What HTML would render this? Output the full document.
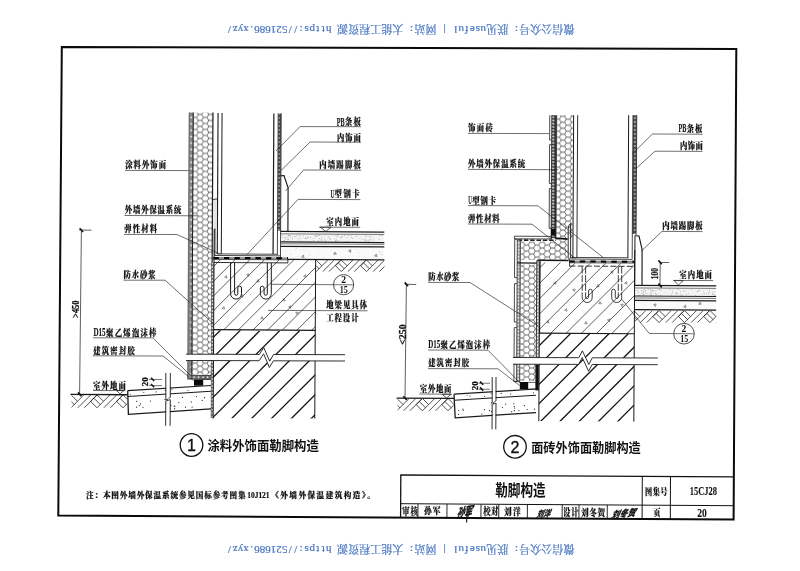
<!DOCTYPE html>
<html lang="zh-CN">
<head>
<meta charset="utf-8">
<title>勒脚构造 15CJ28</title>
<style>
html,body{margin:0;padding:0;background:#fff;}
body{width:800px;height:571px;overflow:hidden;font-family:'Liberation Serif','Noto Serif CJK SC',serif;}
svg{display:block;will-change:transform;}
</style>
</head>
<body>
<svg width="800" height="571" viewBox="0 0 800 571">
<defs>
<pattern id="hex" width="10.380" height="5.993" patternUnits="userSpaceOnUse" x="196.58" y="120.46"><path d="M0,2.996 L1.730,0 L5.190,0 L6.920,2.996 L5.190,5.993 L1.730,5.993 Z M6.920,2.996 L10.380,2.996" fill="none" stroke="#222" stroke-width="0.66"/></pattern>
<pattern id="hex2" width="10.380" height="5.993" patternUnits="userSpaceOnUse" x="559.41" y="116.25"><path d="M0,2.996 L1.730,0 L5.190,0 L6.920,2.996 L5.190,5.993 L1.730,5.993 Z M6.920,2.996 L10.380,2.996" fill="none" stroke="#222" stroke-width="0.66"/></pattern>
<pattern id="dotband" width="6" height="6.4" patternUnits="userSpaceOnUse" x="188.7" y="120.65"><rect width="6" height="6.4" fill="#858585"/><circle cx="2.5" cy="3.2" r="1.0" fill="#fff"/></pattern>
<pattern id="dotband2" width="4" height="4.0" patternUnits="userSpaceOnUse" x="277.4"><rect width="4" height="4.0" fill="#4a4a4a"/><circle cx="1.5" cy="2.0" r="0.8" fill="#fff"/></pattern>
<pattern id="triband" width="6" height="3.2" patternUnits="userSpaceOnUse" x="551.3"><rect width="6" height="3.2" fill="#333"/><path d="M0.5,2.7 L1.9,0.5 L3.3,2.7 Z" fill="#fff"/></pattern>
<pattern id="dotband4" width="2.6" height="3.4" patternUnits="userSpaceOnUse" x="211.0"><rect width="2.6" height="3.4" fill="#666"/><circle cx="1.3" cy="1.7" r="0.8" fill="#fff"/></pattern>
<pattern id="dotband5" width="4.5" height="3.2" patternUnits="userSpaceOnUse" x="187.4" y="375.6"><rect width="4.5" height="3.2" fill="#666"/><circle cx="2.2" cy="1.6" r="0.9" fill="#fff"/></pattern>
<pattern id="dotband3" width="3.2" height="3.4" patternUnits="userSpaceOnUse" x="516.8"><rect width="3.2" height="3.4" fill="#9a9a9a"/><circle cx="1.6" cy="1.7" r="0.9" fill="#fff"/></pattern>
</defs>
<rect x="0" y="0" width="800" height="571" fill="#ffffff"/>
<g style="filter:grayscale(1) blur(0.3px)">
<path d="M61.80,47.00 L736.30,48.90 L733.60,519.60 L58.30,515.60 Z" fill="none" stroke="#0a0a0a" stroke-width="2.0" />
<text x="86.00" y="497.50" font-family="'Liberation Serif','Noto Serif CJK SC',serif" font-size="7.6" font-weight="900" fill="#111" text-anchor="start" textLength="159.60" stroke="#111" stroke-width="0.2" lengthAdjust="spacing">注：本图外墙外保温系统参见国标参考图集</text>
<text x="247.20" y="497.60" font-family="'Liberation Serif','Noto Serif CJK SC',serif" font-size="8.2" font-weight="700" fill="#111" text-anchor="start" textLength="22.40" lengthAdjust="spacingAndGlyphs" stroke="#111" stroke-width="0.2">10J121</text>
<text x="271.20" y="497.80" font-family="'Liberation Serif','Noto Serif CJK SC',serif" font-size="7.6" font-weight="900" fill="#111" text-anchor="start" textLength="103.60" stroke="#111" stroke-width="0.2" lengthAdjust="spacing">《外墙外保温建筑构造》。</text>
<line x1="400.80" y1="475.00" x2="734.00" y2="476.90" stroke="#111" stroke-width="1.3" />
<line x1="400.80" y1="474.40" x2="400.60" y2="518.00" stroke="#111" stroke-width="1.3" />
<line x1="400.80" y1="503.70" x2="733.80" y2="505.70" stroke="#111" stroke-width="1.0" />
<line x1="418.00" y1="503.90" x2="417.90" y2="518.07" stroke="#111" stroke-width="0.9" />
<line x1="447.00" y1="504.06" x2="446.90" y2="518.18" stroke="#111" stroke-width="0.9" />
<line x1="481.00" y1="504.25" x2="480.90" y2="518.32" stroke="#111" stroke-width="0.9" />
<line x1="498.80" y1="504.35" x2="498.70" y2="518.39" stroke="#111" stroke-width="0.9" />
<line x1="527.40" y1="504.51" x2="527.30" y2="518.51" stroke="#111" stroke-width="0.9" />
<line x1="562.20" y1="504.70" x2="562.10" y2="518.64" stroke="#111" stroke-width="0.9" />
<line x1="579.00" y1="504.80" x2="578.90" y2="518.71" stroke="#111" stroke-width="0.9" />
<line x1="607.30" y1="504.96" x2="607.20" y2="518.83" stroke="#111" stroke-width="0.9" />
<line x1="642.30" y1="476.40" x2="642.10" y2="519.20" stroke="#111" stroke-width="1.0" />
<line x1="670.50" y1="476.40" x2="670.30" y2="519.20" stroke="#111" stroke-width="1.0" />
<text x="495.20" y="496.20" font-family="'Liberation Sans','Noto Sans CJK SC',sans-serif" font-size="15.4" font-weight="700" fill="#111" text-anchor="start" textLength="50.40" lengthAdjust="spacingAndGlyphs" >勒脚构造</text>
<text x="0" y="0" transform="translate(402.20 514.76) scale(0.7 1)" font-family="'Liberation Serif','Noto Serif CJK SC',serif" font-size="10.6" font-weight="900" letter-spacing="1.137" fill="#111" stroke="#111" stroke-width="0.2">审核</text>
<text x="0" y="0" transform="translate(424.00 514.42) scale(0.8 1)" font-family="'Liberation Serif','Noto Serif CJK SC',serif" font-size="9.6" font-weight="900" letter-spacing="1.255" fill="#111" stroke="#111" stroke-width="0.2">孙军</text>
<text x="0" y="0" transform="translate(483.20 515.16) scale(0.7 1)" font-family="'Liberation Serif','Noto Serif CJK SC',serif" font-size="10.6" font-weight="900" letter-spacing="0.520" fill="#111" stroke="#111" stroke-width="0.2">校对</text>
<text x="0" y="0" transform="translate(504.00 515.02) scale(0.8 1)" font-family="'Liberation Serif','Noto Serif CJK SC',serif" font-size="9.6" font-weight="900" letter-spacing="1.584" fill="#111" stroke="#111" stroke-width="0.2">刘洋</text>
<text x="0" y="0" transform="translate(563.20 515.99) scale(0.7 1)" font-family="'Liberation Serif','Noto Serif CJK SC',serif" font-size="10.2" font-weight="900" letter-spacing="1.383" fill="#111" stroke="#111" stroke-width="0.2">设计</text>
<text x="0" y="0" transform="translate(581.00 515.82) scale(0.8 1)" font-family="'Liberation Serif','Noto Serif CJK SC',serif" font-size="9.6" font-weight="900" letter-spacing="0.659" fill="#111" stroke="#111" stroke-width="0.2">刘冬贺</text>
<text x="0" y="0" transform="translate(645.00 495.46) scale(0.8 1)" font-family="'Liberation Serif','Noto Serif CJK SC',serif" font-size="9.0" font-weight="900" letter-spacing="0.569" fill="#111" stroke="#111" stroke-width="0.2">图集号</text>
<text x="689.70" y="494.95" font-family="'Liberation Serif',serif" font-size="12.597" font-weight="700" fill="#111" text-anchor="start" textLength="27.33" lengthAdjust="spacingAndGlyphs" stroke="#111" stroke-width="0.1">15CJ28</text>
<text x="0" y="0" transform="translate(653.50 516.28) scale(0.8 1)" font-family="'Liberation Serif','Noto Serif CJK SC',serif" font-size="8.6" font-weight="900" letter-spacing="1.122" fill="#111" stroke="#111" stroke-width="0.2">页</text>
<text x="697.20" y="516.65" font-family="'Liberation Serif',serif" font-size="12.597" font-weight="700" fill="#111" text-anchor="start" textLength="9.62" lengthAdjust="spacingAndGlyphs" stroke="#111" stroke-width="0.1">20</text>
<text x="0" y="0" font-family="'Liberation Sans','Noto Sans CJK SC',sans-serif" font-size="11.5" font-weight="900" font-style="italic" fill="#111" stroke="#111" stroke-width="0.3" textLength="15.5" lengthAdjust="spacingAndGlyphs" transform="translate(456.6 517.6) rotate(-10) skewX(-20)">孙军</text>
<line x1="467.20" y1="506.00" x2="466.60" y2="522.60" stroke="#111" stroke-width="1.1" />
<text x="0" y="0" font-family="'Liberation Sans','Noto Sans CJK SC',sans-serif" font-size="8.6" font-weight="900" font-style="italic" fill="#111" stroke="#111" stroke-width="0.3" textLength="13.5" lengthAdjust="spacingAndGlyphs" transform="translate(536.2 517.6) rotate(-6) skewX(-20)">刘洋</text>
<text x="0" y="0" font-family="'Liberation Sans','Noto Sans CJK SC',sans-serif" font-size="9.0" font-weight="900" font-style="italic" fill="#111" stroke="#111" stroke-width="0.3" textLength="24.0" lengthAdjust="spacingAndGlyphs" transform="translate(611.0 518.2) rotate(-6) skewX(-20)">刘冬贺</text>
<circle cx="191.5" cy="445.0" r="11.3" fill="none" stroke="#111" stroke-width="1.3"/>
<text x="191.50" y="450.70" font-family="'Liberation Sans','Noto Sans CJK SC',sans-serif" font-size="16" font-weight="400" fill="#111" text-anchor="middle" stroke="#111" stroke-width="0.35">1</text>
<text x="207.50" y="450.30" font-family="'Liberation Sans','Noto Sans CJK SC',sans-serif" font-size="12.6" font-weight="700" fill="#111" text-anchor="start" textLength="111.30" lengthAdjust="spacingAndGlyphs" >涂料外饰面勒脚构造</text>
<circle cx="515.0" cy="446.8" r="11.3" fill="none" stroke="#111" stroke-width="1.3"/>
<text x="515.00" y="452.50" font-family="'Liberation Sans','Noto Sans CJK SC',sans-serif" font-size="16" font-weight="400" fill="#111" text-anchor="middle" stroke="#111" stroke-width="0.35">2</text>
<text x="531.20" y="452.00" font-family="'Liberation Sans','Noto Sans CJK SC',sans-serif" font-size="12.6" font-weight="700" fill="#111" text-anchor="start" textLength="109.60" lengthAdjust="spacingAndGlyphs" >面砖外饰面勒脚构造</text>
<path d="M188.97,112.60 L193.37,112.60 L191.88,378.50 L187.48,378.50 Z" fill="url(#dotband)" stroke="none" stroke-width="0" />
<line x1="189.17" y1="112.60" x2="187.68" y2="378.50" stroke="#444" stroke-width="0.6" />
<line x1="193.27" y1="112.60" x2="191.78" y2="378.50" stroke="#1a1a1a" stroke-width="1.0" />
<path d="M193.37,112.60 L212.57,112.60 L211.10,374.50 L191.90,374.50 Z" fill="url(#hex)" stroke="none" stroke-width="0" />
<line x1="212.97" y1="112.60" x2="211.47" y2="380.50" stroke="#1a1a1a" stroke-width="1.2" />
<path d="M211.53,262.50 L213.93,262.50 L213.06,418.00 L210.66,418.00 Z" fill="url(#dotband4)" stroke="none" stroke-width="0" />
<line x1="214.22" y1="229.00" x2="213.16" y2="418.50" stroke="#1a1a1a" stroke-width="1.0" />
<line x1="218.07" y1="112.90" x2="217.28" y2="254.00" stroke="#1a1a1a" stroke-width="1.1" />
<line x1="222.07" y1="113.00" x2="221.28" y2="254.00" stroke="#1a1a1a" stroke-width="1.0" />
<line x1="273.86" y1="113.40" x2="273.08" y2="254.20" stroke="#1a1a1a" stroke-width="1.2" />
<path d="M278.26,113.40 L281.06,113.40 L280.41,231.00 L277.61,231.00 Z" fill="url(#dotband2)" stroke="none" stroke-width="0" />
<line x1="278.16" y1="113.40" x2="277.37" y2="255.00" stroke="#1a1a1a" stroke-width="0.8" />
<line x1="281.26" y1="113.40" x2="280.45" y2="259.00" stroke="#1a1a1a" stroke-width="0.8" />
<path d="M280.60,175.70 L284.00,175.60 L288.10,187.80 L287.90,231.30" fill="none" stroke="#111" stroke-width="1.1" />
<rect x="281.00" y="234.30" width="103.00" height="7.50" fill="#f4f4f4" />
<circle cx="315.0" cy="235.8" r="0.4" fill="#666"/>
<circle cx="348.4" cy="235.3" r="0.4" fill="#666"/>
<circle cx="336.7" cy="237.2" r="0.4" fill="#666"/>
<circle cx="287.9" cy="238.1" r="0.4" fill="#666"/>
<circle cx="285.8" cy="237.7" r="0.4" fill="#666"/>
<circle cx="289.1" cy="235.4" r="0.4" fill="#666"/>
<circle cx="325.3" cy="240.3" r="0.4" fill="#666"/>
<circle cx="294.6" cy="236.3" r="0.4" fill="#666"/>
<circle cx="346.0" cy="241.1" r="0.4" fill="#666"/>
<circle cx="340.9" cy="237.4" r="0.4" fill="#666"/>
<circle cx="381.6" cy="235.1" r="0.4" fill="#666"/>
<circle cx="369.6" cy="236.7" r="0.4" fill="#666"/>
<circle cx="296.7" cy="235.6" r="0.4" fill="#666"/>
<circle cx="313.5" cy="240.2" r="0.4" fill="#666"/>
<circle cx="300.4" cy="238.6" r="0.4" fill="#666"/>
<circle cx="347.2" cy="237.3" r="0.4" fill="#666"/>
<circle cx="337.9" cy="235.2" r="0.4" fill="#666"/>
<circle cx="288.1" cy="236.2" r="0.4" fill="#666"/>
<circle cx="351.4" cy="237.6" r="0.4" fill="#666"/>
<circle cx="314.0" cy="238.7" r="0.4" fill="#666"/>
<circle cx="328.2" cy="236.8" r="0.4" fill="#666"/>
<circle cx="363.0" cy="239.4" r="0.4" fill="#666"/>
<circle cx="306.9" cy="238.6" r="0.4" fill="#666"/>
<circle cx="335.6" cy="240.6" r="0.4" fill="#666"/>
<circle cx="356.4" cy="236.7" r="0.4" fill="#666"/>
<circle cx="382.0" cy="235.6" r="0.4" fill="#666"/>
<circle cx="324.6" cy="239.8" r="0.4" fill="#666"/>
<circle cx="297.5" cy="238.0" r="0.4" fill="#666"/>
<circle cx="286.0" cy="239.2" r="0.4" fill="#666"/>
<circle cx="360.0" cy="238.6" r="0.4" fill="#666"/>
<circle cx="371.3" cy="236.9" r="0.4" fill="#666"/>
<circle cx="352.9" cy="238.7" r="0.4" fill="#666"/>
<circle cx="341.1" cy="237.8" r="0.4" fill="#666"/>
<circle cx="367.7" cy="241.0" r="0.4" fill="#666"/>
<circle cx="330.4" cy="239.2" r="0.4" fill="#666"/>
<circle cx="288.2" cy="239.4" r="0.4" fill="#666"/>
<circle cx="348.0" cy="241.4" r="0.4" fill="#666"/>
<circle cx="365.8" cy="236.7" r="0.4" fill="#666"/>
<circle cx="321.4" cy="239.2" r="0.4" fill="#666"/>
<circle cx="284.3" cy="237.8" r="0.4" fill="#666"/>
<circle cx="299.1" cy="235.6" r="0.4" fill="#666"/>
<circle cx="288.0" cy="239.9" r="0.4" fill="#666"/>
<circle cx="295.2" cy="236.4" r="0.4" fill="#666"/>
<circle cx="321.9" cy="240.6" r="0.4" fill="#666"/>
<circle cx="290.2" cy="237.8" r="0.4" fill="#666"/>
<circle cx="338.0" cy="240.6" r="0.4" fill="#666"/>
<circle cx="365.6" cy="240.5" r="0.4" fill="#666"/>
<circle cx="310.4" cy="237.5" r="0.4" fill="#666"/>
<circle cx="318.6" cy="240.6" r="0.4" fill="#666"/>
<circle cx="379.7" cy="235.8" r="0.4" fill="#666"/>
<circle cx="300.0" cy="236.3" r="0.4" fill="#666"/>
<circle cx="305.8" cy="238.0" r="0.4" fill="#666"/>
<circle cx="342.1" cy="236.5" r="0.4" fill="#666"/>
<circle cx="282.4" cy="237.6" r="0.4" fill="#666"/>
<circle cx="319.7" cy="238.5" r="0.4" fill="#666"/>
<circle cx="379.2" cy="239.4" r="0.4" fill="#666"/>
<circle cx="334.6" cy="238.9" r="0.4" fill="#666"/>
<circle cx="351.0" cy="235.2" r="0.4" fill="#666"/>
<circle cx="373.8" cy="239.9" r="0.4" fill="#666"/>
<circle cx="371.2" cy="240.1" r="0.4" fill="#666"/>
<circle cx="322.0" cy="237.4" r="0.4" fill="#666"/>
<circle cx="292.6" cy="239.0" r="0.4" fill="#666"/>
<circle cx="288.3" cy="235.2" r="0.4" fill="#666"/>
<circle cx="303.3" cy="235.9" r="0.4" fill="#666"/>
<circle cx="316.7" cy="235.1" r="0.4" fill="#666"/>
<circle cx="282.0" cy="235.8" r="0.4" fill="#666"/>
<circle cx="292.3" cy="237.2" r="0.4" fill="#666"/>
<circle cx="284.6" cy="240.6" r="0.4" fill="#666"/>
<circle cx="344.6" cy="235.8" r="0.4" fill="#666"/>
<circle cx="307.7" cy="237.1" r="0.4" fill="#666"/>
<circle cx="319.1" cy="235.6" r="0.4" fill="#666"/>
<circle cx="368.6" cy="241.4" r="0.4" fill="#666"/>
<circle cx="329.5" cy="238.0" r="0.4" fill="#666"/>
<circle cx="290.8" cy="235.5" r="0.4" fill="#666"/>
<circle cx="316.9" cy="236.5" r="0.4" fill="#666"/>
<circle cx="366.5" cy="235.9" r="0.4" fill="#666"/>
<circle cx="284.4" cy="241.1" r="0.4" fill="#666"/>
<circle cx="335.9" cy="235.8" r="0.4" fill="#666"/>
<circle cx="337.4" cy="235.0" r="0.4" fill="#666"/>
<circle cx="335.9" cy="241.3" r="0.4" fill="#666"/>
<circle cx="370.1" cy="239.4" r="0.4" fill="#666"/>
<circle cx="308.6" cy="237.2" r="0.4" fill="#666"/>
<circle cx="299.0" cy="239.9" r="0.4" fill="#666"/>
<circle cx="336.3" cy="239.9" r="0.4" fill="#666"/>
<circle cx="315.6" cy="236.3" r="0.4" fill="#666"/>
<circle cx="364.8" cy="241.3" r="0.4" fill="#666"/>
<circle cx="369.0" cy="240.1" r="0.4" fill="#666"/>
<circle cx="365.5" cy="239.7" r="0.4" fill="#666"/>
<circle cx="305.1" cy="238.2" r="0.4" fill="#666"/>
<circle cx="318.3" cy="235.0" r="0.4" fill="#666"/>
<rect x="281.00" y="247.00" width="103.00" height="12.00" fill="#fafafa" />
<line x1="280.70" y1="231.45" x2="384.30" y2="232.03" stroke="#1a1a1a" stroke-width="1.3" />
<line x1="280.70" y1="233.85" x2="384.30" y2="234.43" stroke="#1a1a1a" stroke-width="0.6" />
<line x1="280.70" y1="241.95" x2="384.30" y2="242.53" stroke="#1a1a1a" stroke-width="1.2" />
<line x1="280.70" y1="243.75" x2="384.30" y2="244.33" stroke="#1a1a1a" stroke-width="0.6" />
<line x1="280.70" y1="246.35" x2="384.30" y2="246.93" stroke="#1a1a1a" stroke-width="1.2" />
<line x1="287.50" y1="259.29" x2="384.30" y2="259.83" stroke="#1a1a1a" stroke-width="1.3" />
<path d="M303.51,255.09 L303.96,257.65 L301.52,256.76 Z" fill="none" stroke="#333" stroke-width="0.5" />
<path d="M335.00,252.00 L336.30,254.25 L333.70,254.25 Z" fill="none" stroke="#333" stroke-width="0.5" />
<path d="M350.96,249.85 L350.51,252.41 L348.52,250.74 Z" fill="none" stroke="#333" stroke-width="0.5" />
<path d="M376.26,254.02 L377.15,256.46 L374.59,256.01 Z" fill="none" stroke="#333" stroke-width="0.5" />
<circle cx="285.8" cy="250.8" r="0.3" fill="#777"/>
<circle cx="309.2" cy="254.9" r="0.3" fill="#777"/>
<circle cx="379.6" cy="252.5" r="0.3" fill="#777"/>
<circle cx="377.6" cy="257.9" r="0.3" fill="#777"/>
<circle cx="379.5" cy="251.6" r="0.3" fill="#777"/>
<circle cx="305.3" cy="250.3" r="0.3" fill="#777"/>
<circle cx="302.9" cy="250.0" r="0.3" fill="#777"/>
<circle cx="346.0" cy="257.0" r="0.3" fill="#777"/>
<circle cx="367.9" cy="252.8" r="0.3" fill="#777"/>
<circle cx="349.0" cy="256.0" r="0.3" fill="#777"/>
<circle cx="291.6" cy="254.6" r="0.3" fill="#777"/>
<circle cx="374.9" cy="255.8" r="0.3" fill="#777"/>
<circle cx="358.8" cy="252.8" r="0.3" fill="#777"/>
<circle cx="301.0" cy="255.9" r="0.3" fill="#777"/>
<circle cx="316.6" cy="256.0" r="0.3" fill="#777"/>
<circle cx="381.1" cy="252.0" r="0.3" fill="#777"/>
<circle cx="323.5" cy="257.5" r="0.3" fill="#777"/>
<circle cx="356.2" cy="249.7" r="0.3" fill="#777"/>
<circle cx="295.8" cy="249.5" r="0.3" fill="#777"/>
<circle cx="374.4" cy="256.1" r="0.3" fill="#777"/>
<circle cx="297.8" cy="256.3" r="0.3" fill="#777"/>
<circle cx="382.0" cy="254.6" r="0.3" fill="#777"/>
<circle cx="318.4" cy="253.5" r="0.3" fill="#777"/>
<circle cx="296.2" cy="248.1" r="0.3" fill="#777"/>
<circle cx="381.1" cy="254.5" r="0.3" fill="#777"/>
<path d="M320.30,227.20 L331.20,227.20 L325.70,231.40 Z" fill="none" stroke="#1a1a1a" stroke-width="0.7" />
<clipPath id="c1"><path d="M316.20,260.00 L384.50,260.00 L384.50,272.10 L316.20,272.10 Z"/></clipPath><g clip-path="url(#c1)">
<line x1="259.90" y1="265.80" x2="265.70" y2="260.00" stroke="#1a1a1a" stroke-width="0.75" />
<line x1="259.90" y1="265.80" x2="265.70" y2="271.60" stroke="#1a1a1a" stroke-width="0.75" />
<line x1="265.70" y1="260.00" x2="271.50" y2="265.80" stroke="#1a1a1a" stroke-width="0.75" />
<line x1="263.03" y1="263.13" x2="268.83" y2="268.93" stroke="#1a1a1a" stroke-width="0.75" />
<line x1="265.70" y1="271.60" x2="277.30" y2="260.00" stroke="#1a1a1a" stroke-width="0.75" />
<line x1="272.30" y1="271.60" x2="283.90" y2="260.00" stroke="#1a1a1a" stroke-width="0.75" />
<line x1="278.60" y1="271.60" x2="290.20" y2="260.00" stroke="#1a1a1a" stroke-width="0.75" />
<line x1="285.10" y1="265.80" x2="290.90" y2="260.00" stroke="#1a1a1a" stroke-width="0.75" />
<line x1="285.10" y1="265.80" x2="290.90" y2="271.60" stroke="#1a1a1a" stroke-width="0.75" />
<line x1="290.90" y1="260.00" x2="296.70" y2="265.80" stroke="#1a1a1a" stroke-width="0.75" />
<line x1="288.23" y1="263.13" x2="294.03" y2="268.93" stroke="#1a1a1a" stroke-width="0.75" />
<line x1="290.90" y1="271.60" x2="302.50" y2="260.00" stroke="#1a1a1a" stroke-width="0.75" />
<line x1="297.50" y1="271.60" x2="309.10" y2="260.00" stroke="#1a1a1a" stroke-width="0.75" />
<line x1="303.80" y1="271.60" x2="315.40" y2="260.00" stroke="#1a1a1a" stroke-width="0.75" />
<line x1="310.30" y1="265.80" x2="316.10" y2="260.00" stroke="#1a1a1a" stroke-width="0.75" />
<line x1="310.30" y1="265.80" x2="316.10" y2="271.60" stroke="#1a1a1a" stroke-width="0.75" />
<line x1="316.10" y1="260.00" x2="321.90" y2="265.80" stroke="#1a1a1a" stroke-width="0.75" />
<line x1="313.43" y1="263.13" x2="319.23" y2="268.93" stroke="#1a1a1a" stroke-width="0.75" />
<line x1="316.10" y1="271.60" x2="327.70" y2="260.00" stroke="#1a1a1a" stroke-width="0.75" />
<line x1="322.70" y1="271.60" x2="334.30" y2="260.00" stroke="#1a1a1a" stroke-width="0.75" />
<line x1="329.00" y1="271.60" x2="340.60" y2="260.00" stroke="#1a1a1a" stroke-width="0.75" />
<line x1="335.50" y1="265.80" x2="341.30" y2="260.00" stroke="#1a1a1a" stroke-width="0.75" />
<line x1="335.50" y1="265.80" x2="341.30" y2="271.60" stroke="#1a1a1a" stroke-width="0.75" />
<line x1="341.30" y1="260.00" x2="347.10" y2="265.80" stroke="#1a1a1a" stroke-width="0.75" />
<line x1="338.63" y1="263.13" x2="344.43" y2="268.93" stroke="#1a1a1a" stroke-width="0.75" />
<line x1="341.30" y1="271.60" x2="352.90" y2="260.00" stroke="#1a1a1a" stroke-width="0.75" />
<line x1="347.90" y1="271.60" x2="359.50" y2="260.00" stroke="#1a1a1a" stroke-width="0.75" />
<line x1="354.20" y1="271.60" x2="365.80" y2="260.00" stroke="#1a1a1a" stroke-width="0.75" />
<line x1="360.70" y1="265.80" x2="366.50" y2="260.00" stroke="#1a1a1a" stroke-width="0.75" />
<line x1="360.70" y1="265.80" x2="366.50" y2="271.60" stroke="#1a1a1a" stroke-width="0.75" />
<line x1="366.50" y1="260.00" x2="372.30" y2="265.80" stroke="#1a1a1a" stroke-width="0.75" />
<line x1="363.83" y1="263.13" x2="369.63" y2="268.93" stroke="#1a1a1a" stroke-width="0.75" />
<line x1="366.50" y1="271.60" x2="378.10" y2="260.00" stroke="#1a1a1a" stroke-width="0.75" />
<line x1="373.10" y1="271.60" x2="384.70" y2="260.00" stroke="#1a1a1a" stroke-width="0.75" />
<line x1="379.40" y1="271.60" x2="391.00" y2="260.00" stroke="#1a1a1a" stroke-width="0.75" />
<line x1="385.90" y1="265.80" x2="391.70" y2="260.00" stroke="#1a1a1a" stroke-width="0.75" />
<line x1="385.90" y1="265.80" x2="391.70" y2="271.60" stroke="#1a1a1a" stroke-width="0.75" />
<line x1="391.70" y1="260.00" x2="397.50" y2="265.80" stroke="#1a1a1a" stroke-width="0.75" />
<line x1="389.03" y1="263.13" x2="394.83" y2="268.93" stroke="#1a1a1a" stroke-width="0.75" />
<line x1="391.70" y1="271.60" x2="403.30" y2="260.00" stroke="#1a1a1a" stroke-width="0.75" />
<line x1="398.30" y1="271.60" x2="409.90" y2="260.00" stroke="#1a1a1a" stroke-width="0.75" />
<line x1="404.60" y1="271.60" x2="416.20" y2="260.00" stroke="#1a1a1a" stroke-width="0.75" />
</g>
<line x1="216.50" y1="253.90" x2="277.40" y2="254.24" stroke="#1a1a1a" stroke-width="0.8" />
<line x1="214.60" y1="255.49" x2="280.50" y2="255.85" stroke="#1a1a1a" stroke-width="0.8" />
<rect x="213.20" y="199.20" width="3.60" height="29.30" fill="#e4e4e4" />
<path d="M212.6,200.2 Q213.2,198.9 217.2,198.9" fill="none" stroke="#1a1a1a" stroke-width="0.9" />
<line x1="215.02" y1="228.40" x2="214.87" y2="255.60" stroke="#1a1a1a" stroke-width="0.9" />
<line x1="213.50" y1="257.88" x2="288.00" y2="258.30" stroke="#000" stroke-width="2.0" stroke-dasharray="5.3 5.2"/>
<line x1="213.50" y1="257.88" x2="288.00" y2="258.30" stroke="#888" stroke-width="1.6" />
<line x1="213.50" y1="257.88" x2="288.00" y2="258.30" stroke="#000" stroke-width="2.0" stroke-dasharray="5.3 5.2"/>
<line x1="213.50" y1="259.38" x2="288.00" y2="259.80" stroke="#1a1a1a" stroke-width="0.8" />
<line x1="214.00" y1="262.48" x2="288.00" y2="262.90" stroke="#1a1a1a" stroke-width="0.9" />
<line x1="287.90" y1="259.50" x2="287.90" y2="262.80" stroke="#1a1a1a" stroke-width="0.9" />
<clipPath id="c2"><path d="M214.00,259.60 L315.60,260.00 L315.40,330.40 L213.60,330.00 Z"/></clipPath><g clip-path="url(#c2)">
<line x1="212.60" y1="267.50" x2="316.60" y2="163.50" stroke="#1a1a1a" stroke-width="0.7" />
<line x1="212.60" y1="282.20" x2="316.60" y2="178.20" stroke="#1a1a1a" stroke-width="0.7" />
<line x1="212.60" y1="296.90" x2="316.60" y2="192.90" stroke="#1a1a1a" stroke-width="0.7" />
<line x1="212.60" y1="311.60" x2="316.60" y2="207.60" stroke="#1a1a1a" stroke-width="0.7" />
<line x1="212.60" y1="326.30" x2="316.60" y2="222.30" stroke="#1a1a1a" stroke-width="0.7" />
<line x1="212.60" y1="341.00" x2="316.60" y2="237.00" stroke="#1a1a1a" stroke-width="0.7" />
<line x1="212.60" y1="355.70" x2="316.60" y2="251.70" stroke="#1a1a1a" stroke-width="0.7" />
<line x1="212.60" y1="370.40" x2="316.60" y2="266.40" stroke="#1a1a1a" stroke-width="0.7" />
<line x1="212.60" y1="385.10" x2="316.60" y2="281.10" stroke="#1a1a1a" stroke-width="0.7" />
<line x1="212.60" y1="399.80" x2="316.60" y2="295.80" stroke="#1a1a1a" stroke-width="0.7" />
<line x1="212.60" y1="414.50" x2="316.60" y2="310.50" stroke="#1a1a1a" stroke-width="0.7" />
<line x1="212.60" y1="429.20" x2="316.60" y2="325.20" stroke="#1a1a1a" stroke-width="0.7" />
</g>
<line x1="315.65" y1="259.50" x2="314.76" y2="418.50" stroke="#1a1a1a" stroke-width="1.0" />
<line x1="213.60" y1="329.71" x2="315.60" y2="330.28" stroke="#1a1a1a" stroke-width="1.2" />
<path d="M226.39,275.55 L227.06,278.06 L224.55,277.39 Z" fill="none" stroke="#333" stroke-width="0.5" />
<path d="M249.15,274.04 L248.26,276.48 L246.59,274.49 Z" fill="none" stroke="#333" stroke-width="0.5" />
<path d="M258.00,279.50 L259.30,281.75 L256.70,281.75 Z" fill="none" stroke="#333" stroke-width="0.5" />
<path d="M242.51,294.59 L242.96,297.15 L240.52,296.26 Z" fill="none" stroke="#333" stroke-width="0.5" />
<path d="M223.76,306.52 L224.65,308.96 L222.09,308.51 Z" fill="none" stroke="#333" stroke-width="0.5" />
<path d="M290.86,305.77 L290.63,308.36 L288.51,306.87 Z" fill="none" stroke="#333" stroke-width="0.5" />
<path d="M262.00,316.50 L263.30,318.75 L260.70,318.75 Z" fill="none" stroke="#333" stroke-width="0.5" />
<path d="M298.30,312.25 L297.00,314.50 L295.70,312.25 Z" fill="none" stroke="#333" stroke-width="0.5" />
<path d="M305.51,274.59 L305.96,277.15 L303.52,276.26 Z" fill="none" stroke="#333" stroke-width="0.5" />
<path d="M284.00,298.50 L285.30,300.75 L282.70,300.75 Z" fill="none" stroke="#333" stroke-width="0.5" />
<circle cx="267.6" cy="323.9" r="0.35" fill="#555"/>
<circle cx="258.5" cy="320.0" r="0.35" fill="#555"/>
<circle cx="297.0" cy="279.1" r="0.35" fill="#555"/>
<circle cx="240.7" cy="284.2" r="0.35" fill="#555"/>
<circle cx="239.6" cy="302.4" r="0.35" fill="#555"/>
<circle cx="241.4" cy="292.0" r="0.35" fill="#555"/>
<circle cx="228.8" cy="322.4" r="0.35" fill="#555"/>
<circle cx="250.7" cy="294.4" r="0.35" fill="#555"/>
<circle cx="273.2" cy="322.1" r="0.35" fill="#555"/>
<circle cx="257.2" cy="322.9" r="0.35" fill="#555"/>
<path d="M230.6,262.8 V293.65 A5.45,5.45 0 0 0 241.5,293.65 V288 A1.8,1.8 0 0 0 237.79999999999998,288 V293.65 A1.6,1.6 0 0 1 234.6,293.65 V262.8" fill="none" stroke="#1a1a1a" stroke-width="1.0" />
<path d="M271.3,262.8 V293.65 A5.45,5.45 0 0 1 260.40000000000003,293.65 V288 A1.8,1.8 0 0 1 264.1,288 V293.65 A1.6,1.6 0 0 0 267.3,293.65 V262.8" fill="none" stroke="#1a1a1a" stroke-width="1.0" />
<clipPath id="c3"><path d="M213.60,330.30 L315.40,330.60 L315.00,418.50 L213.10,418.00 Z"/></clipPath><g clip-path="url(#c3)">
<line x1="212.10" y1="338.60" x2="316.40" y2="234.30" stroke="#111" stroke-width="1.3" />
<line x1="212.10" y1="358.50" x2="316.40" y2="254.20" stroke="#111" stroke-width="1.3" />
<line x1="212.10" y1="378.40" x2="316.40" y2="274.10" stroke="#111" stroke-width="1.3" />
<line x1="212.10" y1="398.30" x2="316.40" y2="294.00" stroke="#111" stroke-width="1.3" />
<line x1="212.10" y1="418.20" x2="316.40" y2="313.90" stroke="#111" stroke-width="1.3" />
<line x1="212.10" y1="438.10" x2="316.40" y2="333.80" stroke="#111" stroke-width="1.3" />
<line x1="212.10" y1="458.00" x2="316.40" y2="353.70" stroke="#111" stroke-width="1.3" />
<line x1="212.10" y1="477.90" x2="316.40" y2="373.60" stroke="#111" stroke-width="1.3" />
<line x1="212.10" y1="497.80" x2="316.40" y2="393.50" stroke="#111" stroke-width="1.3" />
<line x1="212.10" y1="517.70" x2="316.40" y2="413.40" stroke="#111" stroke-width="1.3" />
</g>
<rect x="187.40" y="375.60" width="23.60" height="3.20" fill="url(#dotband5)" />
<line x1="191.80" y1="375.35" x2="211.50" y2="375.46" stroke="#1a1a1a" stroke-width="0.8" />
<line x1="187.40" y1="379.00" x2="211.00" y2="379.20" stroke="#1a1a1a" stroke-width="0.8" />
<rect x="194.00" y="379.50" width="9.20" height="6.20" fill="#0a0a0a" />
<line x1="202.60" y1="379.40" x2="211.00" y2="379.20" stroke="#1a1a1a" stroke-width="0.7" />
<path d="M127.70,390.70 L211.00,385.50" fill="none" stroke="#1a1a1a" stroke-width="1.2" />
<path d="M127.80,396.50 L211.00,391.20" fill="none" stroke="#1a1a1a" stroke-width="1.1" />
<path d="M127.70,390.70 L128.40,414.30 L211.00,408.80" fill="none" stroke="#1a1a1a" stroke-width="1.3" />
<circle cx="170.1" cy="391.2" r="0.55" fill="#222"/>
<circle cx="171.9" cy="389.6" r="0.55" fill="#222"/>
<circle cx="165.2" cy="390.4" r="0.55" fill="#222"/>
<circle cx="130.3" cy="394.2" r="0.55" fill="#222"/>
<circle cx="143.8" cy="392.5" r="0.55" fill="#222"/>
<circle cx="188.0" cy="390.3" r="0.55" fill="#222"/>
<circle cx="156.1" cy="391.9" r="0.55" fill="#222"/>
<circle cx="174.3" cy="406.6" r="0.6" fill="#222"/>
<circle cx="139.3" cy="405.6" r="0.6" fill="#222"/>
<circle cx="150.4" cy="401.1" r="0.6" fill="#222"/>
<circle cx="191.2" cy="401.9" r="0.6" fill="#222"/>
<circle cx="174.8" cy="406.2" r="0.6" fill="#222"/>
<circle cx="202.2" cy="400.4" r="0.6" fill="#222"/>
<circle cx="178.8" cy="402.6" r="0.6" fill="#222"/>
<circle cx="170.9" cy="405.5" r="0.6" fill="#222"/>
<circle cx="166.3" cy="403.7" r="0.6" fill="#222"/>
<circle cx="168.3" cy="409.0" r="0.6" fill="#222"/>
<circle cx="185.5" cy="407.2" r="0.6" fill="#222"/>
<circle cx="204.5" cy="397.7" r="0.6" fill="#222"/>
<circle cx="174.6" cy="408.7" r="0.6" fill="#222"/>
<circle cx="196.5" cy="396.6" r="0.6" fill="#222"/>
<circle cx="140.5" cy="403.9" r="0.6" fill="#222"/>
<circle cx="136.7" cy="401.4" r="0.6" fill="#222"/>
<circle cx="136.7" cy="407.2" r="0.6" fill="#222"/>
<circle cx="192.1" cy="407.1" r="0.6" fill="#222"/>
<circle cx="143.0" cy="407.5" r="0.6" fill="#222"/>
<circle cx="182.5" cy="397.4" r="0.6" fill="#222"/>
<rect x="166.20" y="372.00" width="3.70" height="55.00" fill="#fff" />
<line x1="165.80" y1="373.00" x2="165.80" y2="398.60" stroke="#1a1a1a" stroke-width="0.9" />
<line x1="165.80" y1="400.60" x2="165.60" y2="425.80" stroke="#1a1a1a" stroke-width="0.9" />
<line x1="170.30" y1="373.00" x2="170.30" y2="397.40" stroke="#1a1a1a" stroke-width="0.9" />
<line x1="170.30" y1="399.60" x2="170.10" y2="425.80" stroke="#1a1a1a" stroke-width="0.9" />
<path d="M165.80,398.60 L164.60,399.80 L167.60,399.20 L166.60,400.80 L170.30,399.60" fill="none" stroke="#1a1a1a" stroke-width="0.8" />
<path d="M170.30,397.40 L168.40,398.30" fill="none" stroke="#1a1a1a" stroke-width="0.8" />
<line x1="149.00" y1="379.39" x2="162.00" y2="379.47" stroke="#1a1a1a" stroke-width="0.6" />
<line x1="149.00" y1="385.59" x2="162.00" y2="385.67" stroke="#1a1a1a" stroke-width="0.6" />
<line x1="151.00" y1="377.80" x2="154.20" y2="381.00" stroke="#111" stroke-width="1.5" />
<line x1="151.00" y1="384.00" x2="154.20" y2="387.20" stroke="#111" stroke-width="1.5" />
<text x="0.00" y="0.00" font-family="'Liberation Serif','Noto Serif CJK SC',serif" font-size="9.2" font-weight="700" fill="#111" text-anchor="start" textLength="9.00" lengthAdjust="spacingAndGlyphs" transform="translate(148.0 386.2) rotate(-90)" stroke="#111" stroke-width="0.25">20</text>
<line x1="70.50" y1="394.43" x2="127.60" y2="394.75" stroke="#1a1a1a" stroke-width="1.3" />
<clipPath id="c4"><path d="M71.50,394.80 L127.30,394.80 L127.30,408.30 L71.50,408.30 Z"/></clipPath><g clip-path="url(#c4)">
<line x1="12.50" y1="401.30" x2="19.00" y2="394.80" stroke="#1a1a1a" stroke-width="0.75" />
<line x1="12.50" y1="401.30" x2="19.00" y2="407.80" stroke="#1a1a1a" stroke-width="0.75" />
<line x1="19.00" y1="394.80" x2="25.50" y2="401.30" stroke="#1a1a1a" stroke-width="0.75" />
<line x1="16.01" y1="398.31" x2="22.51" y2="404.81" stroke="#1a1a1a" stroke-width="0.75" />
<line x1="19.00" y1="407.80" x2="32.00" y2="394.80" stroke="#1a1a1a" stroke-width="0.75" />
<line x1="25.80" y1="407.80" x2="38.80" y2="394.80" stroke="#1a1a1a" stroke-width="0.75" />
<line x1="32.30" y1="407.80" x2="45.30" y2="394.80" stroke="#1a1a1a" stroke-width="0.75" />
<line x1="38.50" y1="401.30" x2="45.00" y2="394.80" stroke="#1a1a1a" stroke-width="0.75" />
<line x1="38.50" y1="401.30" x2="45.00" y2="407.80" stroke="#1a1a1a" stroke-width="0.75" />
<line x1="45.00" y1="394.80" x2="51.50" y2="401.30" stroke="#1a1a1a" stroke-width="0.75" />
<line x1="42.01" y1="398.31" x2="48.51" y2="404.81" stroke="#1a1a1a" stroke-width="0.75" />
<line x1="45.00" y1="407.80" x2="58.00" y2="394.80" stroke="#1a1a1a" stroke-width="0.75" />
<line x1="51.80" y1="407.80" x2="64.80" y2="394.80" stroke="#1a1a1a" stroke-width="0.75" />
<line x1="58.30" y1="407.80" x2="71.30" y2="394.80" stroke="#1a1a1a" stroke-width="0.75" />
<line x1="64.50" y1="401.30" x2="71.00" y2="394.80" stroke="#1a1a1a" stroke-width="0.75" />
<line x1="64.50" y1="401.30" x2="71.00" y2="407.80" stroke="#1a1a1a" stroke-width="0.75" />
<line x1="71.00" y1="394.80" x2="77.50" y2="401.30" stroke="#1a1a1a" stroke-width="0.75" />
<line x1="68.01" y1="398.31" x2="74.51" y2="404.81" stroke="#1a1a1a" stroke-width="0.75" />
<line x1="71.00" y1="407.80" x2="84.00" y2="394.80" stroke="#1a1a1a" stroke-width="0.75" />
<line x1="77.80" y1="407.80" x2="90.80" y2="394.80" stroke="#1a1a1a" stroke-width="0.75" />
<line x1="84.30" y1="407.80" x2="97.30" y2="394.80" stroke="#1a1a1a" stroke-width="0.75" />
<line x1="90.50" y1="401.30" x2="97.00" y2="394.80" stroke="#1a1a1a" stroke-width="0.75" />
<line x1="90.50" y1="401.30" x2="97.00" y2="407.80" stroke="#1a1a1a" stroke-width="0.75" />
<line x1="97.00" y1="394.80" x2="103.50" y2="401.30" stroke="#1a1a1a" stroke-width="0.75" />
<line x1="94.01" y1="398.31" x2="100.51" y2="404.81" stroke="#1a1a1a" stroke-width="0.75" />
<line x1="97.00" y1="407.80" x2="110.00" y2="394.80" stroke="#1a1a1a" stroke-width="0.75" />
<line x1="103.80" y1="407.80" x2="116.80" y2="394.80" stroke="#1a1a1a" stroke-width="0.75" />
<line x1="110.30" y1="407.80" x2="123.30" y2="394.80" stroke="#1a1a1a" stroke-width="0.75" />
<line x1="116.50" y1="401.30" x2="123.00" y2="394.80" stroke="#1a1a1a" stroke-width="0.75" />
<line x1="116.50" y1="401.30" x2="123.00" y2="407.80" stroke="#1a1a1a" stroke-width="0.75" />
<line x1="123.00" y1="394.80" x2="129.50" y2="401.30" stroke="#1a1a1a" stroke-width="0.75" />
<line x1="120.01" y1="398.31" x2="126.51" y2="404.81" stroke="#1a1a1a" stroke-width="0.75" />
<line x1="123.00" y1="407.80" x2="136.00" y2="394.80" stroke="#1a1a1a" stroke-width="0.75" />
<line x1="129.80" y1="407.80" x2="142.80" y2="394.80" stroke="#1a1a1a" stroke-width="0.75" />
<line x1="136.30" y1="407.80" x2="149.30" y2="394.80" stroke="#1a1a1a" stroke-width="0.75" />
<line x1="142.50" y1="401.30" x2="149.00" y2="394.80" stroke="#1a1a1a" stroke-width="0.75" />
<line x1="142.50" y1="401.30" x2="149.00" y2="407.80" stroke="#1a1a1a" stroke-width="0.75" />
<line x1="149.00" y1="394.80" x2="155.50" y2="401.30" stroke="#1a1a1a" stroke-width="0.75" />
<line x1="146.01" y1="398.31" x2="152.51" y2="404.81" stroke="#1a1a1a" stroke-width="0.75" />
<line x1="149.00" y1="407.80" x2="162.00" y2="394.80" stroke="#1a1a1a" stroke-width="0.75" />
<line x1="155.80" y1="407.80" x2="168.80" y2="394.80" stroke="#1a1a1a" stroke-width="0.75" />
<line x1="162.30" y1="407.80" x2="175.30" y2="394.80" stroke="#1a1a1a" stroke-width="0.75" />
</g>
<path d="M116.30,390.50 L124.00,390.50 L120.10,393.80 Z" fill="none" stroke="#1a1a1a" stroke-width="0.7" />
<line x1="81.40" y1="230.20" x2="79.60" y2="394.00" stroke="#1a1a1a" stroke-width="0.7" />
<line x1="79.00" y1="230.00" x2="91.50" y2="230.20" stroke="#1a1a1a" stroke-width="0.7" />
<line x1="79.70" y1="228.20" x2="83.10" y2="232.00" stroke="#111" stroke-width="1.6" />
<line x1="78.00" y1="392.40" x2="81.40" y2="396.20" stroke="#111" stroke-width="1.6" />
<text x="0.00" y="0.00" font-family="'Liberation Serif','Noto Serif CJK SC',serif" font-size="10" font-weight="700" fill="#111" text-anchor="start" textLength="17.40" lengthAdjust="spacingAndGlyphs" transform="translate(78.9 317.9) rotate(-90)" stroke="#111" stroke-width="0.25">&gt;450</text>
<path d="M186.00,354.20 L259.40,354.40 L263.80,347.50 L269.60,361.20 L273.60,354.50 L345.00,354.70 L345.00,361.00 L273.40,360.80 L269.40,367.50 L263.60,353.80 L259.20,360.70 L186.00,360.50 Z" fill="#fff" stroke="none" stroke-width="0" />
<path d="M186.00,354.20 L259.40,354.40 L263.80,347.50 L269.60,361.20 L273.60,354.50 L345.00,354.70" fill="none" stroke="#1a1a1a" stroke-width="0.9" />
<path d="M186.00,360.50 L259.20,360.70 L263.60,353.80 L269.40,367.50 L273.40,360.80 L345.00,361.00" fill="none" stroke="#1a1a1a" stroke-width="0.9" />
<text x="0" y="0" transform="translate(125.20 168.04) scale(0.79 1)" font-family="'Liberation Serif','Noto Serif CJK SC',serif" font-size="9.3" font-weight="900" letter-spacing="1.302" fill="#111" stroke="#111" stroke-width="0.2">涂料外饰面</text>
<path d="M125.00,170.40 L188.50,170.60" fill="none" stroke="#222" stroke-width="0.65" />
<text x="0" y="0" transform="translate(124.80 212.64) scale(0.79 1)" font-family="'Liberation Serif','Noto Serif CJK SC',serif" font-size="9.3" font-weight="900" letter-spacing="1.091" fill="#111" stroke="#111" stroke-width="0.2">外墙外保温系统</text>
<path d="M124.50,215.50 L197.50,215.80" fill="none" stroke="#222" stroke-width="0.65" />
<text x="0" y="0" transform="translate(124.30 232.44) scale(0.79 1)" font-family="'Liberation Serif','Noto Serif CJK SC',serif" font-size="9.3" font-weight="900" letter-spacing="1.392" fill="#111" stroke="#111" stroke-width="0.2">弹性材料</text>
<path d="M124.00,234.40 L177.00,234.50 L220.50,254.20" fill="none" stroke="#222" stroke-width="0.65" />
<text x="0" y="0" transform="translate(123.60 278.24) scale(0.79 1)" font-family="'Liberation Serif','Noto Serif CJK SC',serif" font-size="9.3" font-weight="900" letter-spacing="1.100" fill="#111" stroke="#111" stroke-width="0.2">防水砂浆</text>
<path d="M123.50,280.20 L165.00,280.20 L213.20,323.50" fill="none" stroke="#222" stroke-width="0.65" />
<text x="93.40" y="336.15" font-family="'Liberation Serif',serif" font-size="11.485500000000002" font-weight="700" fill="#111" text-anchor="start" textLength="12.30" lengthAdjust="spacingAndGlyphs" stroke="#111" stroke-width="0.1">D15</text>
<text x="0" y="0" transform="translate(106.10 335.84) scale(0.79 1)" font-family="'Liberation Serif','Noto Serif CJK SC',serif" font-size="9.3" font-weight="900" letter-spacing="1.587" fill="#111" stroke="#111" stroke-width="0.2">聚乙烯泡沫棒</text>
<path d="M93.00,337.80 L153.00,337.90 L190.50,375.50" fill="none" stroke="#222" stroke-width="0.65" />
<text x="0" y="0" transform="translate(93.20 353.74) scale(0.79 1)" font-family="'Liberation Serif','Noto Serif CJK SC',serif" font-size="9.3" font-weight="900" letter-spacing="1.561" fill="#111" stroke="#111" stroke-width="0.2">建筑密封胶</text>
<path d="M93.00,355.80 L163.00,356.00 L193.50,380.50" fill="none" stroke="#222" stroke-width="0.65" />
<text x="0" y="0" transform="translate(93.00 388.84) scale(0.79 1)" font-family="'Liberation Serif','Noto Serif CJK SC',serif" font-size="9.3" font-weight="900" letter-spacing="1.425" fill="#111" stroke="#111" stroke-width="0.2">室外地面</text>
<path d="M93.00,390.50 L125.50,390.60" fill="none" stroke="#222" stroke-width="0.65" />
<text x="336.70" y="125.55" font-family="'Liberation Serif',serif" font-size="11.485500000000002" font-weight="700" fill="#111" text-anchor="start" textLength="7.86" lengthAdjust="spacingAndGlyphs" stroke="#111" stroke-width="0.1">PB</text>
<text x="0" y="0" transform="translate(344.96 125.24) scale(0.79 1)" font-family="'Liberation Serif','Noto Serif CJK SC',serif" font-size="9.3" font-weight="900" letter-spacing="1.412" fill="#111" stroke="#111" stroke-width="0.2">条板</text>
<path d="M361.00,126.70 L300.00,126.60 L276.00,151.00" fill="none" stroke="#222" stroke-width="0.65" />
<text x="0" y="0" transform="translate(337.00 140.64) scale(0.79 1)" font-family="'Liberation Serif','Noto Serif CJK SC',serif" font-size="9.3" font-weight="900" letter-spacing="1.194" fill="#111" stroke="#111" stroke-width="0.2">内饰面</text>
<path d="M361.00,142.20 L310.00,142.00 L281.00,170.50" fill="none" stroke="#222" stroke-width="0.65" />
<text x="0" y="0" transform="translate(319.20 168.44) scale(0.79 1)" font-family="'Liberation Serif','Noto Serif CJK SC',serif" font-size="9.3" font-weight="900" letter-spacing="1.561" fill="#111" stroke="#111" stroke-width="0.2">内墙踢脚板</text>
<path d="M361.20,170.20 L303.60,170.00 L285.50,191.00" fill="none" stroke="#222" stroke-width="0.65" />
<text x="330.40" y="197.75" font-family="'Liberation Serif',serif" font-size="11.485500000000002" font-weight="700" fill="#111" text-anchor="start" textLength="3.82" lengthAdjust="spacingAndGlyphs" stroke="#111" stroke-width="0.1">U</text>
<text x="0" y="0" transform="translate(334.62 197.44) scale(0.79 1)" font-family="'Liberation Serif','Noto Serif CJK SC',serif" font-size="9.3" font-weight="900" letter-spacing="1.885" fill="#111" stroke="#111" stroke-width="0.2">型钢卡</text>
<path d="M360.40,199.60 L298.00,199.40 L247.00,254.60" fill="none" stroke="#222" stroke-width="0.65" />
<text x="0" y="0" transform="translate(326.20 225.04) scale(0.79 1)" font-family="'Liberation Serif','Noto Serif CJK SC',serif" font-size="9.3" font-weight="900" letter-spacing="1.425" fill="#111" stroke="#111" stroke-width="0.2">室内地面</text>
<path d="M319.00,227.20 L360.20,227.30" fill="none" stroke="#222" stroke-width="0.65" />
<text x="0" y="0" transform="translate(326.20 308.24) scale(0.79 1)" font-family="'Liberation Serif','Noto Serif CJK SC',serif" font-size="9.3" font-weight="900" letter-spacing="1.302" fill="#111" stroke="#111" stroke-width="0.2">地梁见具体</text>
<path d="M268.00,310.40 L367.50,310.80" fill="none" stroke="#222" stroke-width="0.65" />
<text x="0" y="0" transform="translate(326.20 321.44) scale(0.79 1)" font-family="'Liberation Serif','Noto Serif CJK SC',serif" font-size="9.3" font-weight="900" letter-spacing="1.230" fill="#111" stroke="#111" stroke-width="0.2">工程设计</text>
<circle cx="343.6" cy="284.7" r="10.1" fill="#fff" stroke="#222" stroke-width="0.8"/>
<path d="M270.80,284.30 L353.70,284.80" fill="none" stroke="#222" stroke-width="0.65" />
<text x="343.60" y="283.30" font-family="'Liberation Serif','Noto Serif CJK SC',serif" font-size="9.6" font-weight="700" fill="#111" text-anchor="middle" >2</text>
<text x="343.80" y="293.40" font-family="'Liberation Serif','Noto Serif CJK SC',serif" font-size="9.6" font-weight="700" fill="#111" text-anchor="middle" textLength="8.00" lengthAdjust="spacingAndGlyphs" >15</text>
<path d="M549.77,115.20 L549.64,140.00 L551.54,140.00" fill="none" stroke="#1a1a1a" stroke-width="0.8" />
<path d="M551.51,144.60 L549.61,144.60 L549.39,183.60 L551.29,183.60" fill="none" stroke="#1a1a1a" stroke-width="0.8" />
<path d="M551.26,188.60 L549.36,188.60 L549.14,228.40 L551.04,228.40" fill="none" stroke="#1a1a1a" stroke-width="0.8" />
<path d="M551.77,115.20 L556.77,115.20 L556.08,238.40 L551.08,238.40 Z" fill="url(#triband)" stroke="none" stroke-width="0" />
<line x1="551.77" y1="115.20" x2="551.08" y2="238.40" stroke="#1a1a1a" stroke-width="0.7" />
<line x1="556.77" y1="115.20" x2="556.08" y2="238.40" stroke="#1a1a1a" stroke-width="0.6" />
<rect x="551.00" y="229.00" width="4.40" height="6.60" fill="#111" />
<path d="M556.97,115.20 L573.27,115.20 L572.58,238.40 L556.28,238.40 Z" fill="url(#hex2)" stroke="none" stroke-width="0" />
<line x1="573.67" y1="115.20" x2="572.87" y2="258.50" stroke="#1a1a1a" stroke-width="1.0" />
<line x1="577.67" y1="115.20" x2="576.88" y2="258.00" stroke="#1a1a1a" stroke-width="0.9" />
<line x1="628.67" y1="115.20" x2="627.88" y2="258.00" stroke="#1a1a1a" stroke-width="1.0" />
<path d="M633.07,115.20 L636.67,115.20 L636.01,234.00 L632.41,234.00 Z" fill="url(#dotband2)" stroke="none" stroke-width="0" />
<line x1="632.97" y1="115.20" x2="632.17" y2="258.50" stroke="#1a1a1a" stroke-width="0.8" />
<line x1="636.77" y1="115.20" x2="636.10" y2="235.00" stroke="#1a1a1a" stroke-width="0.8" />
<path d="M635.20,235.80 L639.00,236.00 L642.10,249.60 L642.00,285.60" fill="none" stroke="#111" stroke-width="1.1" />
<line x1="634.98" y1="235.50" x2="634.70" y2="286.00" stroke="#1a1a1a" stroke-width="1.0" />
<path d="M514.40,236.20 L551.20,236.40 L551.20,239.00 L514.40,238.80 Z" fill="none" stroke="#1a1a1a" stroke-width="0.8" />
<line x1="517.60" y1="240.10" x2="556.00" y2="240.32" stroke="#222" stroke-width="1.6" stroke-dasharray="4.5 1.8"/>
<path d="M517.13,239.20 L514.73,239.20 L514.52,277.60 L516.92,277.60" fill="none" stroke="#1a1a1a" stroke-width="0.8" />
<path d="M516.88,283.60 L514.48,283.60 L514.27,322.00 L516.67,322.00" fill="none" stroke="#1a1a1a" stroke-width="0.8" />
<path d="M516.64,327.60 L514.24,327.60 L514.07,357.20 L516.47,357.20" fill="none" stroke="#1a1a1a" stroke-width="0.8" />
<path d="M516.43,364.40 L514.03,364.40 L513.93,381.40 L516.33,381.40" fill="none" stroke="#1a1a1a" stroke-width="0.8" />
<path d="M517.30,240.50 L520.40,240.50 L519.70,381.50 L516.60,381.50 Z" fill="url(#dotband3)" stroke="none" stroke-width="0" />
<line x1="517.30" y1="239.50" x2="516.50" y2="381.50" stroke="#1a1a1a" stroke-width="0.7" />
<line x1="520.50" y1="241.00" x2="519.70" y2="381.50" stroke="#1a1a1a" stroke-width="0.7" />
<path d="M520.90,241.60 L556.00,241.70 L556.00,239.40 L567.60,239.40 L567.60,259.60 L520.90,260.00 Z" fill="url(#hex2)" stroke="none" stroke-width="0" />
<path d="M555.4,238.3 Q562,238.2 567.6,239.2" fill="none" stroke="#111" stroke-width="1.7" />
<line x1="537.20" y1="260.33" x2="568.60" y2="260.50" stroke="#1a1a1a" stroke-width="1.5" />
<line x1="517.00" y1="262.94" x2="538.00" y2="263.06" stroke="#1a1a1a" stroke-width="1.2" />
<line x1="540.02" y1="260.00" x2="539.61" y2="333.50" stroke="#1a1a1a" stroke-width="1.1" />
<path d="M520.60,264.60 L536.30,264.60 L535.70,380.80 L519.90,380.80 Z" fill="url(#hex2)" stroke="none" stroke-width="0" />
<path d="M536.80,261.00 L539.60,261.00 L539.00,357.60 L536.20,357.60 Z" fill="url(#dotband3)" stroke="none" stroke-width="0" />
<line x1="536.90" y1="260.40" x2="536.20" y2="357.60" stroke="#1a1a1a" stroke-width="0.9" />
<rect x="535.40" y="364.40" width="3.40" height="26.00" fill="#111" />
<path d="M568.2,258.4 V229.5 Q568.4,224.2 570.6,223.4 V258" fill="none" stroke="#1a1a1a" stroke-width="0.9" />
<line x1="570.30" y1="257.43" x2="628.20" y2="257.76" stroke="#1a1a1a" stroke-width="0.8" />
<line x1="568.20" y1="259.02" x2="632.50" y2="259.38" stroke="#1a1a1a" stroke-width="0.8" />
<line x1="569.40" y1="261.43" x2="634.60" y2="261.79" stroke="#888" stroke-width="1.9" />
<line x1="569.40" y1="261.43" x2="634.60" y2="261.79" stroke="#000" stroke-width="2.0" stroke-dasharray="5.3 5.2"/>
<line x1="569.40" y1="262.83" x2="634.60" y2="263.19" stroke="#1a1a1a" stroke-width="0.6" />
<line x1="569.40" y1="266.03" x2="634.60" y2="266.39" stroke="#1a1a1a" stroke-width="0.9" stroke-dasharray="6 2.2"/>
<line x1="569.50" y1="258.50" x2="569.50" y2="266.40" stroke="#1a1a1a" stroke-width="0.8" />
<clipPath id="c5"><path d="M539.60,262.60 L569.50,262.60 L569.50,263.20 L634.60,263.60 L634.20,333.80 L539.20,333.20 Z"/></clipPath><g clip-path="url(#c5)">
<line x1="538.20" y1="269.40" x2="635.60" y2="172.00" stroke="#1a1a1a" stroke-width="0.7" />
<line x1="538.20" y1="284.70" x2="635.60" y2="187.30" stroke="#1a1a1a" stroke-width="0.7" />
<line x1="538.20" y1="300.00" x2="635.60" y2="202.60" stroke="#1a1a1a" stroke-width="0.7" />
<line x1="538.20" y1="315.30" x2="635.60" y2="217.90" stroke="#1a1a1a" stroke-width="0.7" />
<line x1="538.20" y1="330.60" x2="635.60" y2="233.20" stroke="#1a1a1a" stroke-width="0.7" />
<line x1="538.20" y1="345.90" x2="635.60" y2="248.50" stroke="#1a1a1a" stroke-width="0.7" />
<line x1="538.20" y1="361.20" x2="635.60" y2="263.80" stroke="#1a1a1a" stroke-width="0.7" />
<line x1="538.20" y1="376.50" x2="635.60" y2="279.10" stroke="#1a1a1a" stroke-width="0.7" />
<line x1="538.20" y1="391.80" x2="635.60" y2="294.40" stroke="#1a1a1a" stroke-width="0.7" />
<line x1="538.20" y1="407.10" x2="635.60" y2="309.70" stroke="#1a1a1a" stroke-width="0.7" />
<line x1="538.20" y1="422.40" x2="635.60" y2="325.00" stroke="#1a1a1a" stroke-width="0.7" />
</g>
<line x1="539.72" y1="261.50" x2="538.82" y2="421.30" stroke="#1a1a1a" stroke-width="1.0" />
<line x1="634.78" y1="250.00" x2="633.82" y2="421.60" stroke="#1a1a1a" stroke-width="1.0" />
<line x1="539.20" y1="333.22" x2="634.40" y2="333.75" stroke="#1a1a1a" stroke-width="1.2" />
<path d="M555.39,281.55 L556.06,284.06 L553.55,283.39 Z" fill="none" stroke="#333" stroke-width="0.5" />
<path d="M575.15,289.04 L574.26,291.48 L572.59,289.49 Z" fill="none" stroke="#333" stroke-width="0.5" />
<path d="M598.00,284.50 L599.30,286.75 L596.70,286.75 Z" fill="none" stroke="#333" stroke-width="0.5" />
<path d="M566.51,308.59 L566.96,311.15 L564.52,310.26 Z" fill="none" stroke="#333" stroke-width="0.5" />
<path d="M548.26,320.52 L549.15,322.96 L546.59,322.51 Z" fill="none" stroke="#333" stroke-width="0.5" />
<path d="M609.86,318.77 L609.63,321.36 L607.51,319.87 Z" fill="none" stroke="#333" stroke-width="0.5" />
<path d="M586.00,321.50 L587.30,323.75 L584.70,323.75 Z" fill="none" stroke="#333" stroke-width="0.5" />
<path d="M623.30,304.25 L622.00,306.50 L620.70,304.25 Z" fill="none" stroke="#333" stroke-width="0.5" />
<path d="M626.51,281.59 L626.96,284.15 L624.52,283.26 Z" fill="none" stroke="#333" stroke-width="0.5" />
<path d="M600.00,301.50 L601.30,303.75 L598.70,303.75 Z" fill="none" stroke="#333" stroke-width="0.5" />
<path d="M612.75,270.70 L612.75,273.30 L610.50,272.00 Z" fill="none" stroke="#333" stroke-width="0.5" />
<line x1="582.20" y1="266.60" x2="582.20" y2="297.50" stroke="#1a1a1a" stroke-width="0.85" stroke-dasharray="7 1.6"/>
<line x1="585.60" y1="266.60" x2="585.60" y2="297.50" stroke="#1a1a1a" stroke-width="0.85" stroke-dasharray="7 1.6"/>
<path d="M582.2,297.5 A5,5 0 0 0 592.2,297.5 V291 A1.8,1.8 0 0 0 588.6,291 V297.5 A1.6,1.6 0 0 1 585.6,297.5" fill="none" stroke="#1a1a1a" stroke-width="0.85" />
<line x1="618.30" y1="266.60" x2="618.30" y2="297.50" stroke="#1a1a1a" stroke-width="0.85" stroke-dasharray="7 1.6"/>
<line x1="621.70" y1="266.60" x2="621.70" y2="297.50" stroke="#1a1a1a" stroke-width="0.85" stroke-dasharray="7 1.6"/>
<path d="M621.7,297.5 A5,5 0 0 1 611.7,297.5 V291 A1.8,1.8 0 0 1 615.3,291 V297.5 A1.6,1.6 0 0 0 618.3,297.5" fill="none" stroke="#1a1a1a" stroke-width="0.85" />
<clipPath id="c6"><path d="M539.30,333.60 L634.30,334.00 L633.90,421.50 L538.80,421.00 Z"/></clipPath><g clip-path="url(#c6)">
<line x1="537.80" y1="347.00" x2="635.30" y2="249.50" stroke="#111" stroke-width="1.3" />
<line x1="537.80" y1="366.30" x2="635.30" y2="268.80" stroke="#111" stroke-width="1.3" />
<line x1="537.80" y1="385.60" x2="635.30" y2="288.10" stroke="#111" stroke-width="1.3" />
<line x1="537.80" y1="404.90" x2="635.30" y2="307.40" stroke="#111" stroke-width="1.3" />
<line x1="537.80" y1="424.20" x2="635.30" y2="326.70" stroke="#111" stroke-width="1.3" />
<line x1="537.80" y1="443.50" x2="635.30" y2="346.00" stroke="#111" stroke-width="1.3" />
<line x1="537.80" y1="462.80" x2="635.30" y2="365.30" stroke="#111" stroke-width="1.3" />
<line x1="537.80" y1="482.10" x2="635.30" y2="384.60" stroke="#111" stroke-width="1.3" />
<line x1="537.80" y1="501.40" x2="635.30" y2="403.90" stroke="#111" stroke-width="1.3" />
</g>
<rect x="635.00" y="288.60" width="81.00" height="7.30" fill="#f4f4f4" />
<circle cx="672.2" cy="292.8" r="0.4" fill="#666"/>
<circle cx="709.9" cy="292.2" r="0.4" fill="#666"/>
<circle cx="676.6" cy="293.0" r="0.4" fill="#666"/>
<circle cx="650.8" cy="292.5" r="0.4" fill="#666"/>
<circle cx="686.4" cy="294.4" r="0.4" fill="#666"/>
<circle cx="643.5" cy="291.1" r="0.4" fill="#666"/>
<circle cx="643.3" cy="294.5" r="0.4" fill="#666"/>
<circle cx="691.5" cy="289.3" r="0.4" fill="#666"/>
<circle cx="714.6" cy="295.6" r="0.4" fill="#666"/>
<circle cx="688.3" cy="293.2" r="0.4" fill="#666"/>
<circle cx="648.6" cy="289.1" r="0.4" fill="#666"/>
<circle cx="678.3" cy="289.4" r="0.4" fill="#666"/>
<circle cx="651.2" cy="290.6" r="0.4" fill="#666"/>
<circle cx="638.4" cy="292.2" r="0.4" fill="#666"/>
<circle cx="671.2" cy="294.7" r="0.4" fill="#666"/>
<circle cx="677.5" cy="293.4" r="0.4" fill="#666"/>
<circle cx="676.0" cy="293.5" r="0.4" fill="#666"/>
<circle cx="672.6" cy="290.9" r="0.4" fill="#666"/>
<circle cx="715.8" cy="295.8" r="0.4" fill="#666"/>
<circle cx="703.2" cy="293.8" r="0.4" fill="#666"/>
<circle cx="661.2" cy="290.6" r="0.4" fill="#666"/>
<circle cx="659.1" cy="289.5" r="0.4" fill="#666"/>
<circle cx="697.3" cy="291.7" r="0.4" fill="#666"/>
<circle cx="703.7" cy="291.6" r="0.4" fill="#666"/>
<circle cx="712.6" cy="294.8" r="0.4" fill="#666"/>
<circle cx="636.0" cy="290.4" r="0.4" fill="#666"/>
<circle cx="708.8" cy="292.2" r="0.4" fill="#666"/>
<circle cx="714.4" cy="291.7" r="0.4" fill="#666"/>
<circle cx="641.8" cy="293.3" r="0.4" fill="#666"/>
<circle cx="698.3" cy="290.8" r="0.4" fill="#666"/>
<circle cx="643.0" cy="291.3" r="0.4" fill="#666"/>
<circle cx="713.1" cy="294.2" r="0.4" fill="#666"/>
<circle cx="645.4" cy="290.7" r="0.4" fill="#666"/>
<circle cx="644.1" cy="289.4" r="0.4" fill="#666"/>
<circle cx="699.8" cy="290.2" r="0.4" fill="#666"/>
<circle cx="680.7" cy="292.0" r="0.4" fill="#666"/>
<circle cx="651.3" cy="294.0" r="0.4" fill="#666"/>
<circle cx="646.5" cy="293.4" r="0.4" fill="#666"/>
<circle cx="645.3" cy="291.9" r="0.4" fill="#666"/>
<circle cx="653.0" cy="290.8" r="0.4" fill="#666"/>
<circle cx="713.7" cy="294.5" r="0.4" fill="#666"/>
<circle cx="660.3" cy="295.0" r="0.4" fill="#666"/>
<circle cx="652.9" cy="291.7" r="0.4" fill="#666"/>
<circle cx="704.4" cy="293.4" r="0.4" fill="#666"/>
<circle cx="644.0" cy="295.7" r="0.4" fill="#666"/>
<circle cx="653.1" cy="290.8" r="0.4" fill="#666"/>
<circle cx="697.8" cy="291.2" r="0.4" fill="#666"/>
<circle cx="659.7" cy="289.5" r="0.4" fill="#666"/>
<circle cx="643.2" cy="293.0" r="0.4" fill="#666"/>
<circle cx="655.4" cy="293.1" r="0.4" fill="#666"/>
<circle cx="665.7" cy="292.1" r="0.4" fill="#666"/>
<circle cx="712.7" cy="292.3" r="0.4" fill="#666"/>
<circle cx="682.0" cy="294.9" r="0.4" fill="#666"/>
<circle cx="650.6" cy="290.0" r="0.4" fill="#666"/>
<circle cx="708.7" cy="294.6" r="0.4" fill="#666"/>
<circle cx="656.0" cy="290.3" r="0.4" fill="#666"/>
<circle cx="695.2" cy="295.4" r="0.4" fill="#666"/>
<circle cx="651.7" cy="295.5" r="0.4" fill="#666"/>
<circle cx="706.6" cy="293.1" r="0.4" fill="#666"/>
<circle cx="669.7" cy="289.7" r="0.4" fill="#666"/>
<circle cx="639.1" cy="295.5" r="0.4" fill="#666"/>
<circle cx="655.1" cy="293.8" r="0.4" fill="#666"/>
<circle cx="656.6" cy="294.6" r="0.4" fill="#666"/>
<circle cx="683.7" cy="291.0" r="0.4" fill="#666"/>
<circle cx="650.0" cy="293.9" r="0.4" fill="#666"/>
<circle cx="641.5" cy="290.6" r="0.4" fill="#666"/>
<circle cx="680.7" cy="294.8" r="0.4" fill="#666"/>
<circle cx="685.1" cy="290.9" r="0.4" fill="#666"/>
<circle cx="709.4" cy="290.4" r="0.4" fill="#666"/>
<circle cx="637.3" cy="290.8" r="0.4" fill="#666"/>
<rect x="635.00" y="301.20" width="81.00" height="8.20" fill="#fafafa" />
<line x1="634.60" y1="285.35" x2="716.20" y2="285.80" stroke="#1a1a1a" stroke-width="1.3" />
<line x1="634.60" y1="287.95" x2="716.20" y2="288.40" stroke="#1a1a1a" stroke-width="0.6" />
<line x1="634.60" y1="296.05" x2="716.20" y2="296.50" stroke="#1a1a1a" stroke-width="1.1" />
<line x1="634.60" y1="297.95" x2="716.20" y2="298.40" stroke="#1a1a1a" stroke-width="0.6" />
<line x1="634.60" y1="300.35" x2="716.20" y2="300.80" stroke="#1a1a1a" stroke-width="1.2" />
<line x1="634.60" y1="309.65" x2="716.20" y2="310.10" stroke="#1a1a1a" stroke-width="1.3" />
<path d="M685.51,305.09 L685.96,307.65 L683.52,306.76 Z" fill="none" stroke="#333" stroke-width="0.5" />
<path d="M700.00,302.00 L701.30,304.25 L698.70,304.25 Z" fill="none" stroke="#333" stroke-width="0.5" />
<path d="M655.96,303.85 L655.51,306.41 L653.52,304.74 Z" fill="none" stroke="#333" stroke-width="0.5" />
<path d="M674.00,280.60 L683.20,280.60 L678.50,285.00 Z" fill="none" stroke="#1a1a1a" stroke-width="0.7" />
<clipPath id="c7"><path d="M634.80,310.40 L716.40,310.40 L716.40,323.10 L634.80,323.10 Z"/></clipPath><g clip-path="url(#c7)">
<line x1="576.80" y1="316.50" x2="582.90" y2="310.40" stroke="#1a1a1a" stroke-width="0.75" />
<line x1="576.80" y1="316.50" x2="582.90" y2="322.60" stroke="#1a1a1a" stroke-width="0.75" />
<line x1="582.90" y1="310.40" x2="589.00" y2="316.50" stroke="#1a1a1a" stroke-width="0.75" />
<line x1="580.09" y1="313.69" x2="586.19" y2="319.79" stroke="#1a1a1a" stroke-width="0.75" />
<line x1="582.90" y1="322.60" x2="595.10" y2="310.40" stroke="#1a1a1a" stroke-width="0.75" />
<line x1="589.55" y1="322.60" x2="601.75" y2="310.40" stroke="#1a1a1a" stroke-width="0.75" />
<line x1="595.90" y1="322.60" x2="608.10" y2="310.40" stroke="#1a1a1a" stroke-width="0.75" />
<line x1="602.20" y1="316.50" x2="608.30" y2="310.40" stroke="#1a1a1a" stroke-width="0.75" />
<line x1="602.20" y1="316.50" x2="608.30" y2="322.60" stroke="#1a1a1a" stroke-width="0.75" />
<line x1="608.30" y1="310.40" x2="614.40" y2="316.50" stroke="#1a1a1a" stroke-width="0.75" />
<line x1="605.49" y1="313.69" x2="611.59" y2="319.79" stroke="#1a1a1a" stroke-width="0.75" />
<line x1="608.30" y1="322.60" x2="620.50" y2="310.40" stroke="#1a1a1a" stroke-width="0.75" />
<line x1="614.95" y1="322.60" x2="627.15" y2="310.40" stroke="#1a1a1a" stroke-width="0.75" />
<line x1="621.30" y1="322.60" x2="633.50" y2="310.40" stroke="#1a1a1a" stroke-width="0.75" />
<line x1="627.60" y1="316.50" x2="633.70" y2="310.40" stroke="#1a1a1a" stroke-width="0.75" />
<line x1="627.60" y1="316.50" x2="633.70" y2="322.60" stroke="#1a1a1a" stroke-width="0.75" />
<line x1="633.70" y1="310.40" x2="639.80" y2="316.50" stroke="#1a1a1a" stroke-width="0.75" />
<line x1="630.89" y1="313.69" x2="636.99" y2="319.79" stroke="#1a1a1a" stroke-width="0.75" />
<line x1="633.70" y1="322.60" x2="645.90" y2="310.40" stroke="#1a1a1a" stroke-width="0.75" />
<line x1="640.35" y1="322.60" x2="652.55" y2="310.40" stroke="#1a1a1a" stroke-width="0.75" />
<line x1="646.70" y1="322.60" x2="658.90" y2="310.40" stroke="#1a1a1a" stroke-width="0.75" />
<line x1="653.00" y1="316.50" x2="659.10" y2="310.40" stroke="#1a1a1a" stroke-width="0.75" />
<line x1="653.00" y1="316.50" x2="659.10" y2="322.60" stroke="#1a1a1a" stroke-width="0.75" />
<line x1="659.10" y1="310.40" x2="665.20" y2="316.50" stroke="#1a1a1a" stroke-width="0.75" />
<line x1="656.29" y1="313.69" x2="662.39" y2="319.79" stroke="#1a1a1a" stroke-width="0.75" />
<line x1="659.10" y1="322.60" x2="671.30" y2="310.40" stroke="#1a1a1a" stroke-width="0.75" />
<line x1="665.75" y1="322.60" x2="677.95" y2="310.40" stroke="#1a1a1a" stroke-width="0.75" />
<line x1="672.10" y1="322.60" x2="684.30" y2="310.40" stroke="#1a1a1a" stroke-width="0.75" />
<line x1="678.40" y1="316.50" x2="684.50" y2="310.40" stroke="#1a1a1a" stroke-width="0.75" />
<line x1="678.40" y1="316.50" x2="684.50" y2="322.60" stroke="#1a1a1a" stroke-width="0.75" />
<line x1="684.50" y1="310.40" x2="690.60" y2="316.50" stroke="#1a1a1a" stroke-width="0.75" />
<line x1="681.69" y1="313.69" x2="687.79" y2="319.79" stroke="#1a1a1a" stroke-width="0.75" />
<line x1="684.50" y1="322.60" x2="696.70" y2="310.40" stroke="#1a1a1a" stroke-width="0.75" />
<line x1="691.15" y1="322.60" x2="703.35" y2="310.40" stroke="#1a1a1a" stroke-width="0.75" />
<line x1="697.50" y1="322.60" x2="709.70" y2="310.40" stroke="#1a1a1a" stroke-width="0.75" />
<line x1="703.80" y1="316.50" x2="709.90" y2="310.40" stroke="#1a1a1a" stroke-width="0.75" />
<line x1="703.80" y1="316.50" x2="709.90" y2="322.60" stroke="#1a1a1a" stroke-width="0.75" />
<line x1="709.90" y1="310.40" x2="716.00" y2="316.50" stroke="#1a1a1a" stroke-width="0.75" />
<line x1="707.09" y1="313.69" x2="713.19" y2="319.79" stroke="#1a1a1a" stroke-width="0.75" />
<line x1="709.90" y1="322.60" x2="722.10" y2="310.40" stroke="#1a1a1a" stroke-width="0.75" />
<line x1="716.55" y1="322.60" x2="728.75" y2="310.40" stroke="#1a1a1a" stroke-width="0.75" />
<line x1="722.90" y1="322.60" x2="735.10" y2="310.40" stroke="#1a1a1a" stroke-width="0.75" />
<line x1="729.20" y1="316.50" x2="735.30" y2="310.40" stroke="#1a1a1a" stroke-width="0.75" />
<line x1="729.20" y1="316.50" x2="735.30" y2="322.60" stroke="#1a1a1a" stroke-width="0.75" />
<line x1="735.30" y1="310.40" x2="741.40" y2="316.50" stroke="#1a1a1a" stroke-width="0.75" />
<line x1="732.49" y1="313.69" x2="738.59" y2="319.79" stroke="#1a1a1a" stroke-width="0.75" />
<line x1="735.30" y1="322.60" x2="747.50" y2="310.40" stroke="#1a1a1a" stroke-width="0.75" />
<line x1="741.95" y1="322.60" x2="754.15" y2="310.40" stroke="#1a1a1a" stroke-width="0.75" />
<line x1="748.30" y1="322.60" x2="760.50" y2="310.40" stroke="#1a1a1a" stroke-width="0.75" />
</g>
<line x1="660.20" y1="262.20" x2="660.00" y2="285.60" stroke="#1a1a1a" stroke-width="0.7" />
<line x1="660.00" y1="262.40" x2="669.20" y2="262.50" stroke="#1a1a1a" stroke-width="0.7" />
<line x1="658.40" y1="260.40" x2="661.80" y2="264.20" stroke="#111" stroke-width="1.6" />
<line x1="658.40" y1="283.60" x2="661.80" y2="287.40" stroke="#111" stroke-width="1.6" />
<text x="0.00" y="0.00" font-family="'Liberation Serif','Noto Serif CJK SC',serif" font-size="9.4" font-weight="700" fill="#111" text-anchor="start" textLength="11.20" lengthAdjust="spacingAndGlyphs" transform="translate(657.6 279.2) rotate(-90)" stroke="#111" stroke-width="0.25">100</text>
<line x1="513.80" y1="381.60" x2="520.00" y2="381.70" stroke="#1a1a1a" stroke-width="0.8" />
<rect x="519.80" y="382.00" width="8.40" height="7.40" fill="#0a0a0a" />
<line x1="528.20" y1="382.40" x2="536.00" y2="382.40" stroke="#1a1a1a" stroke-width="0.7" />
<line x1="528.20" y1="389.20" x2="536.00" y2="389.00" stroke="#1a1a1a" stroke-width="0.7" />
<path d="M454.00,394.20 L536.00,389.00" fill="none" stroke="#1a1a1a" stroke-width="1.2" />
<path d="M454.20,400.20 L536.00,395.20" fill="none" stroke="#1a1a1a" stroke-width="1.1" />
<path d="M454.00,394.20 L455.20,417.80 L536.00,412.60" fill="none" stroke="#1a1a1a" stroke-width="1.3" />
<circle cx="491.2" cy="393.8" r="0.55" fill="#222"/>
<circle cx="469.9" cy="396.0" r="0.55" fill="#222"/>
<circle cx="501.2" cy="393.4" r="0.55" fill="#222"/>
<circle cx="484.6" cy="396.5" r="0.55" fill="#222"/>
<circle cx="533.5" cy="392.8" r="0.55" fill="#222"/>
<circle cx="510.6" cy="394.1" r="0.55" fill="#222"/>
<circle cx="467.1" cy="395.2" r="0.55" fill="#222"/>
<circle cx="458.4" cy="414.3" r="0.6" fill="#222"/>
<circle cx="511.7" cy="411.7" r="0.6" fill="#222"/>
<circle cx="458.7" cy="410.5" r="0.6" fill="#222"/>
<circle cx="494.6" cy="409.6" r="0.6" fill="#222"/>
<circle cx="481.9" cy="414.0" r="0.6" fill="#222"/>
<circle cx="462.9" cy="409.1" r="0.6" fill="#222"/>
<circle cx="514.5" cy="410.7" r="0.6" fill="#222"/>
<circle cx="514.5" cy="408.0" r="0.6" fill="#222"/>
<circle cx="518.9" cy="410.6" r="0.6" fill="#222"/>
<circle cx="484.4" cy="409.6" r="0.6" fill="#222"/>
<circle cx="527.3" cy="409.5" r="0.6" fill="#222"/>
<circle cx="489.5" cy="410.7" r="0.6" fill="#222"/>
<circle cx="524.4" cy="405.6" r="0.6" fill="#222"/>
<circle cx="505.7" cy="404.2" r="0.6" fill="#222"/>
<circle cx="502.4" cy="407.5" r="0.6" fill="#222"/>
<circle cx="463.3" cy="410.3" r="0.6" fill="#222"/>
<circle cx="534.5" cy="409.2" r="0.6" fill="#222"/>
<circle cx="513.8" cy="403.8" r="0.6" fill="#222"/>
<circle cx="514.3" cy="406.3" r="0.6" fill="#222"/>
<circle cx="491.4" cy="411.3" r="0.6" fill="#222"/>
<rect x="492.60" y="376.00" width="3.00" height="55.00" fill="#fff" />
<line x1="492.20" y1="377.00" x2="492.20" y2="402.00" stroke="#1a1a1a" stroke-width="0.9" />
<line x1="492.20" y1="404.00" x2="492.00" y2="429.40" stroke="#1a1a1a" stroke-width="0.9" />
<line x1="496.00" y1="377.00" x2="496.00" y2="400.80" stroke="#1a1a1a" stroke-width="0.9" />
<line x1="496.00" y1="403.00" x2="495.80" y2="429.40" stroke="#1a1a1a" stroke-width="0.9" />
<path d="M492.20,402.00 L491.00,403.20 L494.00,402.60 L493.00,404.20 L496.00,403.00" fill="none" stroke="#1a1a1a" stroke-width="0.8" />
<path d="M496.00,400.80 L494.40,401.60" fill="none" stroke="#1a1a1a" stroke-width="0.8" />
<line x1="478.50" y1="383.19" x2="490.00" y2="383.26" stroke="#1a1a1a" stroke-width="0.6" />
<line x1="478.50" y1="389.19" x2="490.00" y2="389.26" stroke="#1a1a1a" stroke-width="0.6" />
<line x1="480.00" y1="381.60" x2="483.20" y2="384.80" stroke="#111" stroke-width="1.5" />
<line x1="480.00" y1="387.40" x2="483.20" y2="390.60" stroke="#111" stroke-width="1.5" />
<text x="0.00" y="0.00" font-family="'Liberation Serif','Noto Serif CJK SC',serif" font-size="9.2" font-weight="700" fill="#111" text-anchor="start" textLength="9.00" lengthAdjust="spacingAndGlyphs" transform="translate(478.0 390.2) rotate(-90)" stroke="#111" stroke-width="0.25">20</text>
<line x1="396.60" y1="398.04" x2="454.00" y2="398.36" stroke="#1a1a1a" stroke-width="1.3" />
<clipPath id="c8"><path d="M397.50,398.40 L453.80,398.40 L453.80,411.30 L397.50,411.30 Z"/></clipPath><g clip-path="url(#c8)">
<line x1="339.40" y1="404.60" x2="345.60" y2="398.40" stroke="#1a1a1a" stroke-width="0.75" />
<line x1="339.40" y1="404.60" x2="345.60" y2="410.80" stroke="#1a1a1a" stroke-width="0.75" />
<line x1="345.60" y1="398.40" x2="351.80" y2="404.60" stroke="#1a1a1a" stroke-width="0.75" />
<line x1="342.75" y1="401.75" x2="348.95" y2="407.95" stroke="#1a1a1a" stroke-width="0.75" />
<line x1="345.60" y1="410.80" x2="358.00" y2="398.40" stroke="#1a1a1a" stroke-width="0.75" />
<line x1="352.30" y1="410.80" x2="364.70" y2="398.40" stroke="#1a1a1a" stroke-width="0.75" />
<line x1="358.70" y1="410.80" x2="371.10" y2="398.40" stroke="#1a1a1a" stroke-width="0.75" />
<line x1="365.00" y1="404.60" x2="371.20" y2="398.40" stroke="#1a1a1a" stroke-width="0.75" />
<line x1="365.00" y1="404.60" x2="371.20" y2="410.80" stroke="#1a1a1a" stroke-width="0.75" />
<line x1="371.20" y1="398.40" x2="377.40" y2="404.60" stroke="#1a1a1a" stroke-width="0.75" />
<line x1="368.35" y1="401.75" x2="374.55" y2="407.95" stroke="#1a1a1a" stroke-width="0.75" />
<line x1="371.20" y1="410.80" x2="383.60" y2="398.40" stroke="#1a1a1a" stroke-width="0.75" />
<line x1="377.90" y1="410.80" x2="390.30" y2="398.40" stroke="#1a1a1a" stroke-width="0.75" />
<line x1="384.30" y1="410.80" x2="396.70" y2="398.40" stroke="#1a1a1a" stroke-width="0.75" />
<line x1="390.60" y1="404.60" x2="396.80" y2="398.40" stroke="#1a1a1a" stroke-width="0.75" />
<line x1="390.60" y1="404.60" x2="396.80" y2="410.80" stroke="#1a1a1a" stroke-width="0.75" />
<line x1="396.80" y1="398.40" x2="403.00" y2="404.60" stroke="#1a1a1a" stroke-width="0.75" />
<line x1="393.95" y1="401.75" x2="400.15" y2="407.95" stroke="#1a1a1a" stroke-width="0.75" />
<line x1="396.80" y1="410.80" x2="409.20" y2="398.40" stroke="#1a1a1a" stroke-width="0.75" />
<line x1="403.50" y1="410.80" x2="415.90" y2="398.40" stroke="#1a1a1a" stroke-width="0.75" />
<line x1="409.90" y1="410.80" x2="422.30" y2="398.40" stroke="#1a1a1a" stroke-width="0.75" />
<line x1="416.20" y1="404.60" x2="422.40" y2="398.40" stroke="#1a1a1a" stroke-width="0.75" />
<line x1="416.20" y1="404.60" x2="422.40" y2="410.80" stroke="#1a1a1a" stroke-width="0.75" />
<line x1="422.40" y1="398.40" x2="428.60" y2="404.60" stroke="#1a1a1a" stroke-width="0.75" />
<line x1="419.55" y1="401.75" x2="425.75" y2="407.95" stroke="#1a1a1a" stroke-width="0.75" />
<line x1="422.40" y1="410.80" x2="434.80" y2="398.40" stroke="#1a1a1a" stroke-width="0.75" />
<line x1="429.10" y1="410.80" x2="441.50" y2="398.40" stroke="#1a1a1a" stroke-width="0.75" />
<line x1="435.50" y1="410.80" x2="447.90" y2="398.40" stroke="#1a1a1a" stroke-width="0.75" />
<line x1="441.80" y1="404.60" x2="448.00" y2="398.40" stroke="#1a1a1a" stroke-width="0.75" />
<line x1="441.80" y1="404.60" x2="448.00" y2="410.80" stroke="#1a1a1a" stroke-width="0.75" />
<line x1="448.00" y1="398.40" x2="454.20" y2="404.60" stroke="#1a1a1a" stroke-width="0.75" />
<line x1="445.15" y1="401.75" x2="451.35" y2="407.95" stroke="#1a1a1a" stroke-width="0.75" />
<line x1="448.00" y1="410.80" x2="460.40" y2="398.40" stroke="#1a1a1a" stroke-width="0.75" />
<line x1="454.70" y1="410.80" x2="467.10" y2="398.40" stroke="#1a1a1a" stroke-width="0.75" />
<line x1="461.10" y1="410.80" x2="473.50" y2="398.40" stroke="#1a1a1a" stroke-width="0.75" />
<line x1="467.40" y1="404.60" x2="473.60" y2="398.40" stroke="#1a1a1a" stroke-width="0.75" />
<line x1="467.40" y1="404.60" x2="473.60" y2="410.80" stroke="#1a1a1a" stroke-width="0.75" />
<line x1="473.60" y1="398.40" x2="479.80" y2="404.60" stroke="#1a1a1a" stroke-width="0.75" />
<line x1="470.75" y1="401.75" x2="476.95" y2="407.95" stroke="#1a1a1a" stroke-width="0.75" />
<line x1="473.60" y1="410.80" x2="486.00" y2="398.40" stroke="#1a1a1a" stroke-width="0.75" />
<line x1="480.30" y1="410.80" x2="492.70" y2="398.40" stroke="#1a1a1a" stroke-width="0.75" />
<line x1="486.70" y1="410.80" x2="499.10" y2="398.40" stroke="#1a1a1a" stroke-width="0.75" />
</g>
<path d="M442.20,394.30 L451.00,394.30 L446.70,398.00 Z" fill="none" stroke="#1a1a1a" stroke-width="0.7" />
<line x1="406.40" y1="284.40" x2="405.00" y2="398.00" stroke="#1a1a1a" stroke-width="0.7" />
<line x1="404.80" y1="284.30" x2="416.20" y2="284.50" stroke="#1a1a1a" stroke-width="0.7" />
<line x1="404.70" y1="282.40" x2="408.10" y2="286.20" stroke="#111" stroke-width="1.6" />
<line x1="403.30" y1="396.20" x2="406.70" y2="400.00" stroke="#111" stroke-width="1.6" />
<text x="0.00" y="0.00" font-family="'Liberation Serif','Noto Serif CJK SC',serif" font-size="10" font-weight="700" fill="#111" text-anchor="start" textLength="20.40" lengthAdjust="spacingAndGlyphs" transform="translate(405.6 344.8) rotate(-90)" stroke="#111" stroke-width="0.25">&lt;250</text>
<path d="M513.00,357.50 L578.80,357.70 L582.40,350.80 L588.80,364.50 L592.30,357.80 L657.80,358.00 L657.80,364.70 L592.10,364.50 L588.60,371.20 L582.20,357.50 L578.60,364.40 L513.00,364.20 Z" fill="#fff" stroke="none" stroke-width="0" />
<path d="M513.00,357.50 L578.80,357.70 L582.40,350.80 L588.80,364.50 L592.30,357.80 L657.80,358.00" fill="none" stroke="#1a1a1a" stroke-width="0.9" />
<path d="M513.00,364.20 L578.60,364.40 L582.20,357.50 L588.60,371.20 L592.10,364.50 L657.80,364.70" fill="none" stroke="#1a1a1a" stroke-width="0.9" />
<text x="0" y="0" transform="translate(468.20 131.24) scale(0.79 1)" font-family="'Liberation Serif','Noto Serif CJK SC',serif" font-size="9.3" font-weight="900" letter-spacing="1.631" fill="#111" stroke="#111" stroke-width="0.2">饰面砖</text>
<path d="M468.00,133.40 L549.00,133.60" fill="none" stroke="#222" stroke-width="0.65" />
<text x="0" y="0" transform="translate(468.00 166.64) scale(0.79 1)" font-family="'Liberation Serif','Noto Serif CJK SC',serif" font-size="9.3" font-weight="900" letter-spacing="1.201" fill="#111" stroke="#111" stroke-width="0.2">外墙外保温系统</text>
<path d="M468.00,169.40 L558.00,169.70" fill="none" stroke="#222" stroke-width="0.65" />
<text x="468.20" y="203.95" font-family="'Liberation Serif',serif" font-size="11.485500000000002" font-weight="700" fill="#111" text-anchor="start" textLength="3.55" lengthAdjust="spacingAndGlyphs" stroke="#111" stroke-width="0.1">U</text>
<text x="0" y="0" transform="translate(472.15 203.64) scale(0.79 1)" font-family="'Liberation Serif','Noto Serif CJK SC',serif" font-size="9.3" font-weight="900" letter-spacing="1.214" fill="#111" stroke="#111" stroke-width="0.2">型钢卡</text>
<path d="M468.00,205.60 L538.00,205.80 L603.50,257.80" fill="none" stroke="#222" stroke-width="0.65" />
<text x="0" y="0" transform="translate(468.00 221.64) scale(0.79 1)" font-family="'Liberation Serif','Noto Serif CJK SC',serif" font-size="9.3" font-weight="900" letter-spacing="0.970" fill="#111" stroke="#111" stroke-width="0.2">弹性材料</text>
<path d="M468.00,224.00 L532.00,224.20 L575.50,258.60" fill="none" stroke="#222" stroke-width="0.65" />
<text x="0" y="0" transform="translate(428.20 280.04) scale(0.79 1)" font-family="'Liberation Serif','Noto Serif CJK SC',serif" font-size="9.3" font-weight="900" letter-spacing="0.775" fill="#111" stroke="#111" stroke-width="0.2">防水砂浆</text>
<path d="M428.00,282.40 L470.00,282.50 L538.20,326.00" fill="none" stroke="#222" stroke-width="0.65" />
<text x="428.20" y="348.15" font-family="'Liberation Serif',serif" font-size="11.485500000000002" font-weight="700" fill="#111" text-anchor="start" textLength="12.02" lengthAdjust="spacingAndGlyphs" stroke="#111" stroke-width="0.1">D15</text>
<text x="0" y="0" transform="translate(440.62 347.84) scale(0.79 1)" font-family="'Liberation Serif','Noto Serif CJK SC',serif" font-size="9.3" font-weight="900" letter-spacing="1.347" fill="#111" stroke="#111" stroke-width="0.2">聚乙烯泡沫棒</text>
<path d="M428.00,350.00 L488.00,350.20 L520.20,383.00" fill="none" stroke="#222" stroke-width="0.65" />
<text x="0" y="0" transform="translate(428.20 366.44) scale(0.79 1)" font-family="'Liberation Serif','Noto Serif CJK SC',serif" font-size="9.3" font-weight="900" letter-spacing="1.354" fill="#111" stroke="#111" stroke-width="0.2">建筑密封胶</text>
<path d="M428.00,368.60 L498.00,368.80 L519.60,385.50" fill="none" stroke="#222" stroke-width="0.65" />
<text x="0" y="0" transform="translate(419.80 391.84) scale(0.79 1)" font-family="'Liberation Serif','Noto Serif CJK SC',serif" font-size="9.3" font-weight="900" letter-spacing="0.970" fill="#111" stroke="#111" stroke-width="0.2">室外地面</text>
<path d="M419.50,394.00 L452.00,394.20" fill="none" stroke="#222" stroke-width="0.65" />
<text x="678.40" y="132.35" font-family="'Liberation Serif',serif" font-size="11.485500000000002" font-weight="700" fill="#111" text-anchor="start" textLength="7.83" lengthAdjust="spacingAndGlyphs" stroke="#111" stroke-width="0.1">PB</text>
<text x="0" y="0" transform="translate(686.63 132.04) scale(0.79 1)" font-family="'Liberation Serif','Noto Serif CJK SC',serif" font-size="9.3" font-weight="900" letter-spacing="1.369" fill="#111" stroke="#111" stroke-width="0.2">条板</text>
<path d="M702.60,134.20 L652.40,134.00 L632.00,154.20" fill="none" stroke="#222" stroke-width="0.65" />
<text x="0" y="0" transform="translate(680.00 149.24) scale(0.79 1)" font-family="'Liberation Serif','Noto Serif CJK SC',serif" font-size="9.3" font-weight="900" letter-spacing="0.494" fill="#111" stroke="#111" stroke-width="0.2">内饰面</text>
<path d="M702.40,151.40 L655.00,151.20 L636.40,168.20" fill="none" stroke="#222" stroke-width="0.65" />
<text x="0" y="0" transform="translate(662.20 229.44) scale(0.79 1)" font-family="'Liberation Serif','Noto Serif CJK SC',serif" font-size="9.3" font-weight="900" letter-spacing="1.147" fill="#111" stroke="#111" stroke-width="0.2">内墙踢脚板</text>
<path d="M702.60,231.60 L662.00,231.40 L641.20,251.20" fill="none" stroke="#222" stroke-width="0.65" />
<text x="0" y="0" transform="translate(679.20 278.04) scale(0.79 1)" font-family="'Liberation Serif','Noto Serif CJK SC',serif" font-size="9.3" font-weight="900" letter-spacing="1.425" fill="#111" stroke="#111" stroke-width="0.2">室内地面</text>
<path d="M673.00,280.40 L713.20,280.60" fill="none" stroke="#222" stroke-width="0.65" />
<path d="M621.50,299.00 L649.20,333.40 L694.00,333.80" fill="none" stroke="#222" stroke-width="0.65" />
<circle cx="684.0" cy="333.7" r="10.3" fill="#fff" stroke="#222" stroke-width="0.8"/>
<path d="M673.80,333.60 L694.20,333.80" fill="none" stroke="#222" stroke-width="0.65" />
<text x="684.00" y="332.30" font-family="'Liberation Serif','Noto Serif CJK SC',serif" font-size="9.6" font-weight="700" fill="#111" text-anchor="middle" >2</text>
<text x="684.20" y="342.40" font-family="'Liberation Serif','Noto Serif CJK SC',serif" font-size="9.6" font-weight="700" fill="#111" text-anchor="middle" textLength="8.00" lengthAdjust="spacingAndGlyphs" >15</text>
</g>
<g transform="rotate(180 400.0 29.6)" fill="#4674c2" stroke="#4674c2" stroke-width="0.22" font-size="11.04" style="filter:blur(0.3px)">
<text x="225.60" y="34.50" font-family="'Liberation Serif','Noto Serif CJK SC',serif" textLength="55.20" lengthAdjust="spacing">微信公众号</text>
<text x="282.03" y="33.60" font-family="'Liberation Serif',serif">:</text>
<text x="291.84" y="34.50" font-family="'Liberation Serif','Noto Serif CJK SC',serif" textLength="22.08" lengthAdjust="spacing">朕见</text>
<text x="313.92 320.05 325.27 331.40 336.00 342.75" y="33.60" font-family="'Liberation Serif',serif">useful</text>
<text x="354.22" y="33.60" font-family="'Liberation Serif',serif">|</text>
<text x="363.60" y="34.50" font-family="'Liberation Serif','Noto Serif CJK SC',serif" textLength="22.08" lengthAdjust="spacing">网站</text>
<text x="386.91" y="33.60" font-family="'Liberation Serif',serif">:</text>
<text x="396.72" y="34.50" font-family="'Liberation Serif','Noto Serif CJK SC',serif" textLength="66.24" lengthAdjust="spacing">太能工程资源</text>
<text x="468.48 475.23 480.75 485.04 491.17 497.31 502.83 508.35 512.64 518.16 523.68 529.20 534.72 540.24 547.14 551.28 556.80 562.63 569.07" y="33.60" font-family="'Liberation Serif',serif">https://521686.xyz/</text>
</g>
<g transform="rotate(180 400.0 550.1)" fill="#4674c2" stroke="#4674c2" stroke-width="0.22" font-size="11.04" style="filter:blur(0.3px)">
<text x="225.60" y="555.00" font-family="'Liberation Serif','Noto Serif CJK SC',serif" textLength="55.20" lengthAdjust="spacing">微信公众号</text>
<text x="282.03" y="554.10" font-family="'Liberation Serif',serif">:</text>
<text x="291.84" y="555.00" font-family="'Liberation Serif','Noto Serif CJK SC',serif" textLength="22.08" lengthAdjust="spacing">朕见</text>
<text x="313.92 320.05 325.27 331.40 336.00 342.75" y="554.10" font-family="'Liberation Serif',serif">useful</text>
<text x="354.22" y="554.10" font-family="'Liberation Serif',serif">|</text>
<text x="363.60" y="555.00" font-family="'Liberation Serif','Noto Serif CJK SC',serif" textLength="22.08" lengthAdjust="spacing">网站</text>
<text x="386.91" y="554.10" font-family="'Liberation Serif',serif">:</text>
<text x="396.72" y="555.00" font-family="'Liberation Serif','Noto Serif CJK SC',serif" textLength="66.24" lengthAdjust="spacing">太能工程资源</text>
<text x="468.48 475.23 480.75 485.04 491.17 497.31 502.83 508.35 512.64 518.16 523.68 529.20 534.72 540.24 547.14 551.28 556.80 562.63 569.07" y="554.10" font-family="'Liberation Serif',serif">https://521686.xyz/</text>
</g>
</svg>
</body>
</html>
